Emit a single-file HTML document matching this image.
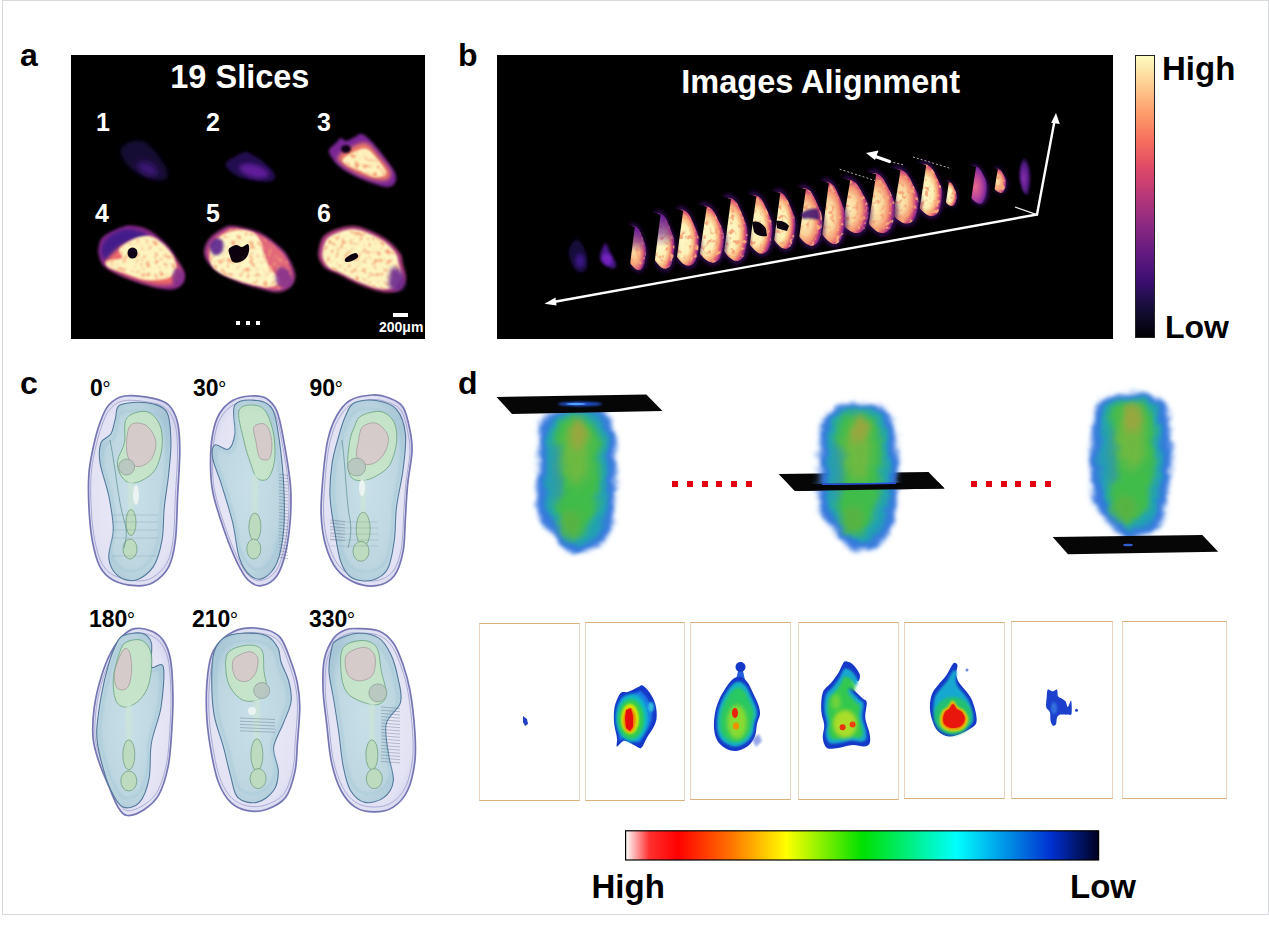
<!DOCTYPE html>
<html><head><meta charset="utf-8"><title>Figure</title>
<style>
html,body{margin:0;padding:0;background:#fff;width:1269px;height:925px;overflow:hidden}
svg{display:block}
text{font-family:"Liberation Sans",Arial,sans-serif;font-weight:bold}
</style></head><body>
<svg width="1269" height="925" viewBox="0 0 1269 925">
<defs>
<linearGradient id="magma" x1="0" y1="1" x2="0" y2="0">
<stop offset="0" stop-color="#000004"/><stop offset="0.1" stop-color="#140e36"/>
<stop offset="0.2" stop-color="#3b0f70"/><stop offset="0.3" stop-color="#641a80"/>
<stop offset="0.4" stop-color="#8c2981"/><stop offset="0.5" stop-color="#b73779"/>
<stop offset="0.6" stop-color="#de4968"/><stop offset="0.7" stop-color="#f7705c"/>
<stop offset="0.8" stop-color="#fe9f6d"/><stop offset="0.9" stop-color="#fecf92"/>
<stop offset="1" stop-color="#fcfdbf"/>
</linearGradient>
<linearGradient id="jet" x1="0" y1="0" x2="1" y2="0">
<stop offset="0" stop-color="#ffffff"/><stop offset="0.05" stop-color="#ff3030"/>
<stop offset="0.11" stop-color="#ff0000"/><stop offset="0.22" stop-color="#ff7000"/>
<stop offset="0.34" stop-color="#ffff00"/><stop offset="0.5" stop-color="#00e000"/>
<stop offset="0.7" stop-color="#00ffff"/><stop offset="0.9" stop-color="#0030d0"/>
<stop offset="1" stop-color="#000020"/>
</linearGradient>
<filter id="b06" x="-20%" y="-20%" width="140%" height="140%"><feGaussianBlur stdDeviation="0.6"/></filter>
<filter id="b1" x="-20%" y="-20%" width="140%" height="140%"><feGaussianBlur stdDeviation="1"/></filter>
<filter id="b15" x="-20%" y="-20%" width="140%" height="140%"><feGaussianBlur stdDeviation="1.5"/></filter>
<filter id="b2" x="-30%" y="-30%" width="160%" height="160%"><feGaussianBlur stdDeviation="2"/></filter>
<filter id="b3" x="-30%" y="-30%" width="160%" height="160%"><feGaussianBlur stdDeviation="3"/></filter>
<filter id="b5" x="-40%" y="-40%" width="180%" height="180%"><feGaussianBlur stdDeviation="5"/></filter>
<filter id="speck" x="-10%" y="-10%" width="120%" height="120%" color-interpolation-filters="sRGB">
<feGaussianBlur in="SourceGraphic" stdDeviation="0.6" result="bl"/>
<feTurbulence type="fractalNoise" baseFrequency="0.2" numOctaves="2" seed="7" result="n"/>
<feColorMatrix in="n" type="matrix" values="0 0 0 0 0.97  0 0 0 0 0.66  0 0 0 0 0.48  0 0 0 -5 2.35" result="spots"/>
<feGaussianBlur in="spots" stdDeviation="0.7" result="spb"/>
<feComposite in="spb" in2="bl" operator="in" result="sp"/>
<feMerge><feMergeNode in="bl"/><feMergeNode in="sp"/></feMerge></filter>
<filter id="cloud" x="-15%" y="-10%" width="130%" height="120%">
<feTurbulence type="fractalNoise" baseFrequency="0.06" numOctaves="3" seed="11" result="t"/>
<feDisplacementMap in="SourceGraphic" in2="t" scale="9" xChannelSelector="R" yChannelSelector="G" result="d"/>
<feGaussianBlur in="d" stdDeviation="1.4"/></filter>
<filter id="speck2" x="-10%" y="-10%" width="120%" height="120%" color-interpolation-filters="sRGB">
<feGaussianBlur in="SourceGraphic" stdDeviation="1.1" result="bl"/>
<feTurbulence type="fractalNoise" baseFrequency="0.22" numOctaves="2" seed="3" result="n"/>
<feColorMatrix in="n" type="matrix" values="0 0 0 0 0.96  0 0 0 0 0.62  0 0 0 0 0.46  0 0 0 -5 2.3" result="spots"/>
<feGaussianBlur in="spots" stdDeviation="0.8" result="spb"/>
<feComposite in="spb" in2="bl" operator="in" result="sp"/>
<feMerge><feMergeNode in="bl"/><feMergeNode in="sp"/></feMerge></filter>
</defs>

<rect x="2.5" y="0.5" width="1266" height="914" fill="none" stroke="#d8d9de" stroke-width="1"/>
<text x="20" y="66" font-size="32">a</text><text x="458" y="66" font-size="32">b</text>
<text x="20" y="394" font-size="32">c</text><text x="458" y="394" font-size="32">d</text>
<rect x="71" y="55" width="354" height="284" fill="#000"/>
<text x="170.3" y="88" font-size="32.5" fill="#fff">19 Slices</text>
<g fill="#fff" font-size="25"><text x="96" y="131">1</text><text x="206" y="131">2</text><text x="317" y="131">3</text><text x="95" y="222">4</text><text x="206" y="222">5</text><text x="317" y="222">6</text></g>
<g fill="#fff"><rect x="236" y="321" width="4" height="4"/><rect x="246" y="321" width="4" height="4"/><rect x="256" y="321" width="4" height="4"/><rect x="393" y="313" width="15" height="4"/></g>
<text x="379" y="332" font-size="14" fill="#fff">200μm</text>
<path d="M121.0,150.0 C121.5,146.2 126.5,143.5 130.0,142.0 C133.5,140.5 138.3,140.0 142.0,141.0 C145.7,142.0 149.0,145.2 152.0,148.0 C155.0,150.8 157.5,154.3 160.0,158.0 C162.5,161.7 166.0,166.5 167.0,170.0 C168.0,173.5 168.0,177.3 166.0,179.0 C164.0,180.7 159.3,180.8 155.0,180.0 C150.7,179.2 144.7,176.5 140.0,174.0 C135.3,171.5 130.2,169.0 127.0,165.0 C123.8,161.0 120.5,153.8 121.0,150.0Z" fill="#140a34" filter="url(#b2)" opacity="1"/>
<ellipse cx="148" cy="169" rx="11" ry="6" fill="#3c1278" filter="url(#b3)" transform="rotate(25 148 168)"/>
<path d="M226.0,163.0 C227.2,160.7 232.7,157.8 236.0,156.0 C239.3,154.2 242.3,151.7 246.0,152.0 C249.7,152.3 254.3,155.7 258.0,158.0 C261.7,160.3 265.2,163.2 268.0,166.0 C270.8,168.8 274.3,172.5 275.0,175.0 C275.7,177.5 274.8,180.0 272.0,181.0 C269.2,182.0 263.3,181.7 258.0,181.0 C252.7,180.3 244.8,178.8 240.0,177.0 C235.2,175.2 231.3,172.3 229.0,170.0 C226.7,167.7 224.8,165.3 226.0,163.0Z" fill="#220c50" filter="url(#b15)" opacity="1"/>
<ellipse cx="254" cy="171" rx="15" ry="6.5" fill="#5e1a98" filter="url(#b2)" transform="rotate(15 254 171)"/>
<path d="M329.0,150.0 C329.7,147.5 334.0,145.0 336.0,143.0 C338.0,141.0 339.3,138.3 341.0,138.0 C342.7,137.7 343.7,141.2 346.0,141.0 C348.3,140.8 352.3,138.2 355.0,137.0 C357.7,135.8 359.2,133.2 362.0,134.0 C364.8,134.8 368.2,138.0 372.0,142.0 C375.8,146.0 381.2,152.8 385.0,158.0 C388.8,163.2 393.3,168.8 395.0,173.0 C396.7,177.2 396.2,180.7 395.0,183.0 C393.8,185.3 391.3,186.8 388.0,187.0 C384.7,187.2 380.5,185.8 375.0,184.0 C369.5,182.2 360.8,178.8 355.0,176.0 C349.2,173.2 343.8,170.0 340.0,167.0 C336.2,164.0 333.8,160.8 332.0,158.0 C330.2,155.2 328.3,152.5 329.0,150.0Z" fill="#7a2596" filter="url(#b15)" opacity="1"/>
<path d="M338.0,157.0 C339.3,154.3 345.3,150.3 350.0,148.0 C354.7,145.7 361.3,141.8 366.0,143.0 C370.7,144.2 374.0,150.3 378.0,155.0 C382.0,159.7 388.5,166.8 390.0,171.0 C391.5,175.2 390.0,178.7 387.0,180.0 C384.0,181.3 377.5,180.3 372.0,179.0 C366.5,177.7 359.0,174.5 354.0,172.0 C349.0,169.5 344.7,166.5 342.0,164.0 C339.3,161.5 336.7,159.7 338.0,157.0Z" fill="#ee7a66" filter="url(#b2)" opacity="1"/>
<path d="M343.0,159.0 C344.5,156.7 352.0,152.7 356.0,151.0 C360.0,149.3 363.3,147.5 367.0,149.0 C370.7,150.5 374.8,156.0 378.0,160.0 C381.2,164.0 386.5,170.2 386.0,173.0 C385.5,175.8 379.7,177.5 375.0,177.0 C370.3,176.5 362.7,172.0 358.0,170.0 C353.3,168.0 349.5,166.8 347.0,165.0 C344.5,163.2 341.5,161.3 343.0,159.0Z" fill="#fdf3bd" filter="url(#speck2)" opacity="1"/>
<ellipse cx="346" cy="149" rx="5" ry="4" fill="#0a0214" filter="url(#b1)"/>
<path d="M98.7,248.5 C99.4,245.6 99.0,240.6 103.0,237.0 C107.0,233.4 117.6,228.8 122.9,227.0 C128.2,225.2 130.4,225.3 135.0,226.0 C139.6,226.7 145.1,227.7 150.6,231.0 C156.1,234.3 163.6,241.3 167.9,246.0 C172.2,250.7 173.8,254.7 176.5,259.0 C179.2,263.3 183.2,268.2 184.3,272.0 C185.5,275.8 185.0,279.2 183.4,282.0 C181.8,284.8 178.8,287.9 174.8,289.0 C170.8,290.1 165.4,289.4 159.2,288.3 C153.0,287.2 144.8,284.8 137.6,282.3 C130.4,279.9 121.8,276.5 116.0,273.6 C110.2,270.7 105.9,268.2 103.0,265.0 C100.1,261.8 99.4,257.4 98.7,254.6 C98.0,251.8 98.0,251.4 98.7,248.5Z" fill="#8c2b8a" filter="url(#b15)" opacity="1"/>
<path d="M101.0,250.0 C101.2,246.5 103.2,242.2 106.0,239.0 C108.8,235.8 114.0,232.7 118.0,231.0 C122.0,229.3 126.0,228.8 130.0,229.0 C134.0,229.2 139.0,230.5 142.0,232.0 C145.0,233.5 149.3,236.3 148.0,238.0 C146.7,239.7 138.0,240.5 134.0,242.0 C130.0,243.5 127.3,244.3 124.0,247.0 C120.7,249.7 117.2,255.8 114.0,258.0 C110.8,260.2 107.2,261.3 105.0,260.0 C102.8,258.7 100.8,253.5 101.0,250.0Z" fill="#431a8a" filter="url(#b2)" opacity="1"/>
<path d="M112.0,254.0 C114.7,251.2 117.7,248.3 122.0,246.0 C126.3,243.7 131.7,240.3 138.0,240.0 C144.3,239.7 154.3,241.3 160.0,244.0 C165.7,246.7 168.7,251.7 172.0,256.0 C175.3,260.3 179.0,265.7 180.0,270.0 C181.0,274.3 181.3,279.5 178.0,282.0 C174.7,284.5 166.7,285.3 160.0,285.0 C153.3,284.7 145.3,282.3 138.0,280.0 C130.7,277.7 121.3,273.8 116.0,271.0 C110.7,268.2 106.7,265.8 106.0,263.0 C105.3,260.2 109.3,256.8 112.0,254.0Z" fill="#ee6a68" filter="url(#b2)" opacity="1"/>
<path d="M122.0,246.0 C124.8,243.8 131.3,239.7 136.0,238.0 C140.7,236.3 145.7,235.2 150.0,236.0 C154.3,236.8 158.2,239.7 162.0,243.0 C165.8,246.3 170.7,251.5 173.0,256.0 C175.3,260.5 176.8,266.3 176.0,270.0 C175.2,273.7 173.0,276.3 168.0,278.0 C163.0,279.7 153.3,280.8 146.0,280.0 C138.7,279.2 130.3,275.2 124.0,273.0 C117.7,270.8 110.8,269.0 108.0,267.0 C105.2,265.0 104.7,262.5 107.0,261.0 C109.3,259.5 120.0,259.7 122.0,258.0 C124.0,256.3 119.0,253.0 119.0,251.0 C119.0,249.0 119.2,248.2 122.0,246.0Z" fill="#fdf5c0" filter="url(#speck2)" opacity="1"/>
<path d="M176.0,268.0 C177.8,267.2 182.0,270.5 183.0,273.0 C184.0,275.5 183.3,280.8 182.0,283.0 C180.7,285.2 176.7,286.8 175.0,286.0 C173.3,285.2 171.8,281.0 172.0,278.0 C172.2,275.0 174.2,268.8 176.0,268.0Z" fill="#7a2a90" filter="url(#b15)" opacity="0.8"/>
<ellipse cx="132.5" cy="253" rx="5" ry="5.5" fill="#0a0212" filter="url(#b06)"/>
<path d="M204.2,249.9 C204.7,246.1 206.9,241.5 210.0,238.0 C213.1,234.5 218.7,230.8 222.6,228.8 C226.5,226.8 227.5,225.4 233.6,226.0 C239.7,226.6 252.0,229.3 259.3,232.5 C266.7,235.7 272.9,241.3 277.7,245.3 C282.4,249.3 284.9,251.5 287.8,256.4 C290.7,261.3 294.7,269.6 295.2,274.7 C295.7,279.8 293.5,283.8 290.6,286.7 C287.7,289.6 282.9,291.9 277.7,292.2 C272.5,292.5 266.2,290.3 259.3,288.5 C252.4,286.7 243.3,283.9 236.4,281.2 C229.5,278.4 222.9,275.4 218.0,272.0 C213.1,268.6 209.3,264.7 207.0,261.0 C204.7,257.3 203.7,253.7 204.2,249.9Z" fill="#a03a88" filter="url(#b15)" opacity="1"/>
<path d="M207.9,250.6 C208.3,247.1 210.4,242.9 213.2,239.7 C216.0,236.4 221.2,233.1 224.8,231.2 C228.4,229.4 229.3,228.1 234.9,228.6 C240.5,229.2 251.8,231.7 258.6,234.6 C265.3,237.6 271.1,242.7 275.5,246.4 C279.9,250.1 282.1,252.1 284.8,256.6 C287.5,261.1 291.2,268.8 291.6,273.4 C292.0,278.1 290.0,281.8 287.4,284.5 C284.7,287.2 280.3,289.3 275.5,289.5 C270.7,289.8 264.9,287.8 258.6,286.1 C252.2,284.5 243.8,282.0 237.5,279.4 C231.2,276.9 225.1,274.1 220.6,271.0 C216.1,267.9 212.6,264.2 210.4,260.8 C208.3,257.5 207.4,254.2 207.9,250.6Z" fill="#e2687a" filter="url(#speck2)" opacity="1"/>
<path d="M210.0,254.0 C210.3,250.2 211.7,246.3 214.0,243.0 C216.3,239.7 220.0,236.2 224.0,234.0 C228.0,231.8 233.3,230.3 238.0,230.0 C242.7,229.7 248.3,230.3 252.0,232.0 C255.7,233.7 258.0,236.3 260.0,240.0 C262.0,243.7 262.3,249.3 264.0,254.0 C265.7,258.7 267.3,263.5 270.0,268.0 C272.7,272.5 280.3,277.8 280.0,281.0 C279.7,284.2 273.7,286.7 268.0,287.0 C262.3,287.3 253.3,285.0 246.0,283.0 C238.7,281.0 229.7,277.8 224.0,275.0 C218.3,272.2 214.3,269.5 212.0,266.0 C209.7,262.5 209.7,257.8 210.0,254.0Z" fill="#fdf7c4" filter="url(#speck2)" opacity="1"/>
<path d="M209.0,245.0 C209.3,242.2 213.7,238.5 216.0,238.0 C218.3,237.5 222.0,239.7 223.0,242.0 C224.0,244.3 223.5,249.8 222.0,252.0 C220.5,254.2 216.2,256.2 214.0,255.0 C211.8,253.8 208.7,247.8 209.0,245.0Z" fill="#5a2090" filter="url(#b15)" opacity="0.9"/>
<path d="M278.0,268.0 C280.0,266.0 285.7,267.7 288.0,270.0 C290.3,272.3 292.7,279.0 292.0,282.0 C291.3,285.0 286.7,288.0 284.0,288.0 C281.3,288.0 277.0,285.3 276.0,282.0 C275.0,278.7 276.0,270.0 278.0,268.0Z" fill="#7a2a90" filter="url(#b15)" opacity="0.8"/>
<path d="M228.9,249.0 C229.9,247.2 233.8,245.3 236.0,245.0 C238.2,244.7 240.0,247.2 242.0,247.0 C244.0,246.8 246.8,243.3 248.0,244.0 C249.2,244.7 249.3,248.7 249.0,251.0 C248.7,253.3 247.5,256.2 246.0,258.0 C244.5,259.8 242.2,261.3 240.0,262.0 C237.8,262.7 234.7,263.0 233.0,262.0 C231.3,261.0 230.7,258.2 230.0,256.0 C229.3,253.8 227.9,250.8 228.9,249.0Z" fill="#08000c" filter="url(#b06)" opacity="1"/>
<path d="M318.7,249.9 C319.5,246.1 320.6,239.6 323.8,236.1 C327.0,232.6 332.6,230.5 337.6,228.8 C342.7,227.1 348.8,225.7 354.1,226.0 C359.5,226.3 364.0,228.2 369.7,230.6 C375.4,233.0 383.0,236.9 388.1,240.7 C393.2,244.5 397.7,249.8 400.1,253.6 C402.6,257.4 401.9,259.7 402.8,263.7 C403.7,267.7 405.9,273.4 405.6,277.5 C405.3,281.6 403.4,286.1 401.0,288.5 C398.6,290.9 395.0,291.9 390.9,292.2 C386.8,292.5 382.0,291.9 376.2,290.4 C370.4,288.9 362.4,285.8 356.0,283.0 C349.6,280.2 342.7,276.2 337.6,273.8 C332.5,271.4 328.7,270.8 325.6,268.3 C322.5,265.9 320.4,262.2 319.2,259.1 C318.0,256.0 317.9,253.7 318.7,249.9Z" fill="#b04080" filter="url(#b15)" opacity="1"/>
<path d="M322.8,250.9 C323.5,247.5 324.6,241.7 327.4,238.5 C330.3,235.3 335.3,233.4 339.8,231.9 C344.4,230.4 349.9,229.1 354.7,229.4 C359.5,229.7 363.6,231.3 368.7,233.5 C373.8,235.7 380.7,239.2 385.3,242.6 C389.9,246.1 393.9,250.8 396.1,254.2 C398.3,257.7 397.7,259.7 398.5,263.3 C399.3,266.9 401.3,272.0 401.0,275.8 C400.8,279.5 399.1,283.4 396.9,285.6 C394.7,287.9 391.5,288.7 387.8,289.0 C384.1,289.3 379.8,288.7 374.6,287.4 C369.3,286.0 362.2,283.2 356.4,280.7 C350.6,278.2 344.4,274.6 339.8,272.4 C335.3,270.2 331.8,269.7 329.0,267.5 C326.3,265.3 324.3,261.9 323.3,259.2 C322.2,256.4 322.1,254.4 322.8,250.9Z" fill="#fdf5c0" filter="url(#speck2)" opacity="1"/>
<path d="M392.0,268.0 C394.2,265.7 399.8,269.2 402.0,272.0 C404.2,274.8 405.7,281.8 405.0,285.0 C404.3,288.2 400.7,290.8 398.0,291.0 C395.3,291.2 390.0,289.8 389.0,286.0 C388.0,282.2 389.8,270.3 392.0,268.0Z" fill="#6a2890" filter="url(#b2)" opacity="0.9"/>
<path d="M345.0,259.0 C345.7,257.8 348.2,256.0 350.0,255.0 C351.8,254.0 354.7,252.7 356.0,253.0 C357.3,253.3 358.7,255.7 358.0,257.0 C357.3,258.3 354.0,260.2 352.0,261.0 C350.0,261.8 347.2,262.3 346.0,262.0 C344.8,261.7 344.3,260.2 345.0,259.0Z" fill="#100010" filter="url(#b06)" opacity="1"/>
<rect x="497" y="55" width="616" height="284" fill="#000"/>
<defs><radialGradient id="g_faint" cx="0.36" cy="0.55" r="0.64"><stop offset="0" stop-color="#3a1878" stop-opacity="0.9"/><stop offset="0.6" stop-color="#200c50" stop-opacity="0.8"/><stop offset="1" stop-color="#100630" stop-opacity="0"/></radialGradient><radialGradient id="g_purple" cx="0.36" cy="0.55" r="0.64"><stop offset="0" stop-color="#8a30b0" stop-opacity="1"/><stop offset="0.6" stop-color="#5a1c92" stop-opacity="0.9"/><stop offset="1" stop-color="#2a0c50" stop-opacity="0"/></radialGradient><radialGradient id="g_bright" cx="0.36" cy="0.55" r="0.64"><stop offset="0" stop-color="#fdf8c8" stop-opacity="1"/><stop offset="0.45" stop-color="#fdf0b4" stop-opacity="1"/><stop offset="0.64" stop-color="#fab47e" stop-opacity="1"/><stop offset="0.79" stop-color="#e05a74" stop-opacity="1"/><stop offset="0.91" stop-color="#9a2e88" stop-opacity="0.95"/><stop offset="1" stop-color="#3a0c60" stop-opacity="0"/></radialGradient><radialGradient id="g_mid" cx="0.36" cy="0.55" r="0.64"><stop offset="0" stop-color="#fdf0b8" stop-opacity="1"/><stop offset="0.4" stop-color="#fad49a" stop-opacity="1"/><stop offset="0.65" stop-color="#f49070" stop-opacity="1"/><stop offset="0.82" stop-color="#c8447c" stop-opacity="1"/><stop offset="0.94" stop-color="#7a2288" stop-opacity="0.9"/><stop offset="1" stop-color="#3a0c60" stop-opacity="0"/></radialGradient><radialGradient id="g_pink" cx="0.36" cy="0.55" r="0.64"><stop offset="0" stop-color="#e86a8a" stop-opacity="1"/><stop offset="0.5" stop-color="#b8449a" stop-opacity="1"/><stop offset="0.8" stop-color="#7a2a9a" stop-opacity="1"/><stop offset="1" stop-color="#3a1070" stop-opacity="0"/></radialGradient><radialGradient id="g_orange" cx="0.36" cy="0.55" r="0.64"><stop offset="0" stop-color="#fde6a8" stop-opacity="1"/><stop offset="0.45" stop-color="#f8b080" stop-opacity="1"/><stop offset="0.75" stop-color="#d85a78" stop-opacity="1"/><stop offset="0.9" stop-color="#8a2a88" stop-opacity="0.9"/><stop offset="1" stop-color="#3a0c60" stop-opacity="0"/></radialGradient><linearGradient id="ptop" x1="0" y1="0" x2="0" y2="1"><stop offset="0" stop-color="#5a1a9a" stop-opacity="0.95"/><stop offset="0.35" stop-color="#6a2090" stop-opacity="0.6"/><stop offset="0.6" stop-color="#6a2090" stop-opacity="0"/></linearGradient></defs>
<path d="M1024.4,157.4 C1025.7,157.7 1028.0,161.2 1029.3,164.9 C1030.5,168.7 1031.7,174.9 1031.7,179.9 C1031.7,184.9 1030.7,193.0 1029.3,194.9 C1027.8,196.8 1024.8,194.3 1023.2,191.2 C1021.5,188.0 1019.8,180.8 1019.5,176.2 C1019.2,171.5 1020.5,166.2 1021.3,163.0 C1022.1,159.9 1023.1,157.1 1024.4,157.4Z" fill="url(#g_purple)" filter="url(#b1)"/>
<path d="M996.3,166.8 C997.4,166.7 999.1,167.3 1000.3,168.4 C1001.6,169.5 1002.5,171.1 1003.7,173.3 C1004.9,175.6 1007.1,179.0 1007.5,181.8 C1007.9,184.6 1007.3,188.2 1006.3,190.2 C1005.3,192.2 1003.3,193.7 1001.7,194.0 C1000.0,194.3 998.0,193.5 996.3,192.1 C994.6,190.7 992.3,188.7 991.5,185.8 C990.7,183.0 991.2,177.8 991.5,175.0 C991.8,172.1 992.5,170.3 993.3,169.0 C994.1,167.6 995.1,166.9 996.3,166.8Z" fill="#3c0f64" opacity="0.75" filter="url(#b2)"/>
<path d="M996.6,168.4 C997.7,168.3 999.1,168.9 1000.2,169.9 C1001.4,170.8 1002.2,172.2 1003.3,174.2 C1004.3,176.2 1006.3,179.3 1006.7,181.8 C1007.0,184.3 1006.4,187.5 1005.6,189.3 C1004.7,191.1 1003.0,192.4 1001.5,192.7 C1000.0,193.0 998.1,192.2 996.6,191.0 C995.1,189.8 993.1,188.0 992.4,185.4 C991.7,182.9 992.1,178.2 992.4,175.7 C992.6,173.2 993.3,171.6 994.0,170.3 C994.7,169.1 995.6,168.5 996.6,168.4Z" fill="url(#g_orange)" filter="url(#speck)"/>
<polygon points="967.8,160.5 997.8,168.9 993.5,195.7 963.5,187.3" fill="#000"/>
<path d="M973.8,163.7 C975.4,163.6 977.7,164.6 979.4,166.2 C981.1,167.9 982.4,170.4 984.0,173.8 C985.7,177.2 988.7,182.5 989.3,186.8 C989.8,191.2 988.9,196.7 987.6,199.8 C986.2,203.0 983.6,205.2 981.3,205.7 C979.0,206.2 976.1,204.9 973.8,202.8 C971.5,200.7 968.4,197.5 967.3,193.1 C966.2,188.7 966.9,180.7 967.3,176.3 C967.7,172.0 968.6,169.2 969.7,167.1 C970.8,165.0 972.2,163.9 973.8,163.7Z" fill="#3c0f64" opacity="0.75" filter="url(#b2)"/>
<path d="M974.3,166.2 C975.8,166.1 977.8,166.9 979.3,168.4 C980.8,169.9 982.0,172.1 983.5,175.2 C984.9,178.3 987.6,182.9 988.1,186.8 C988.6,190.7 987.8,195.6 986.6,198.4 C985.4,201.3 983.0,203.3 981.0,203.7 C978.9,204.1 976.4,202.9 974.3,201.1 C972.2,199.2 969.5,196.4 968.5,192.4 C967.5,188.5 968.2,181.3 968.5,177.4 C968.9,173.6 969.7,171.1 970.7,169.2 C971.6,167.3 972.9,166.3 974.3,166.2Z" fill="url(#g_pink)" filter="url(#b06)"/>
<polygon points="946.0,158.5 976.0,166.9 970.0,206.7 940.0,198.3" fill="#000"/>
<path d="M947.5,180.0 C948.6,179.9 950.1,180.5 951.2,181.6 C952.4,182.7 953.2,184.3 954.3,186.5 C955.4,188.8 957.4,192.2 957.8,195.0 C958.2,197.8 957.6,201.4 956.7,203.4 C955.8,205.4 954.0,206.9 952.5,207.2 C950.9,207.5 949.0,206.7 947.5,205.3 C945.9,203.9 943.9,201.9 943.1,199.0 C942.4,196.2 942.9,191.0 943.1,188.2 C943.4,185.3 944.0,183.5 944.8,182.2 C945.5,180.8 946.4,180.1 947.5,180.0Z" fill="#3c0f64" opacity="0.75" filter="url(#b2)"/>
<path d="M947.8,181.6 C948.8,181.5 950.1,182.1 951.2,183.1 C952.2,184.0 952.9,185.4 953.9,187.4 C954.9,189.4 956.7,192.5 957.0,195.0 C957.4,197.5 956.8,200.7 956.0,202.5 C955.2,204.3 953.6,205.6 952.3,205.9 C950.9,206.2 949.2,205.4 947.8,204.2 C946.4,203.0 944.6,201.2 943.9,198.6 C943.3,196.1 943.7,191.4 943.9,188.9 C944.2,186.4 944.7,184.8 945.4,183.5 C946.0,182.3 946.9,181.7 947.8,181.6Z" fill="url(#g_bright)" filter="url(#speck)"/>
<polygon points="918.9,173.7 948.9,182.1 944.9,208.9 914.9,200.5" fill="#000"/>
<path d="M923.3,160.8 C925.5,160.6 928.6,161.9 930.9,164.3 C933.2,166.6 935.0,170.0 937.2,174.7 C939.4,179.4 943.4,186.7 944.2,192.7 C945.0,198.7 943.8,206.3 942.0,210.7 C940.2,215.0 936.5,218.1 933.4,218.8 C930.3,219.5 926.5,217.6 923.3,214.7 C920.2,211.8 916.0,207.5 914.5,201.4 C913.0,195.3 914.0,184.2 914.5,178.2 C915.1,172.2 916.3,168.3 917.8,165.4 C919.3,162.5 921.1,161.0 923.3,160.8Z" fill="#3c0f64" opacity="0.75" filter="url(#b2)"/>
<path d="M924.0,164.2 C926.0,164.0 928.7,165.2 930.8,167.3 C932.8,169.4 934.4,172.4 936.4,176.6 C938.4,180.9 942.0,187.3 942.7,192.7 C943.4,198.0 942.3,204.9 940.6,208.7 C939.0,212.6 935.8,215.4 933.0,216.0 C930.2,216.6 926.8,215.0 924.0,212.4 C921.2,209.8 917.4,205.9 916.1,200.5 C914.8,195.0 915.6,185.1 916.1,179.7 C916.6,174.4 917.7,170.9 919.0,168.3 C920.4,165.8 922.0,164.4 924.0,164.2Z" fill="url(#g_bright)" filter="url(#speck)"/>
<polygon points="896.2,156.8 926.2,165.2 918.1,219.0 888.1,210.6" fill="#000"/>
<path d="M897.2,165.6 C899.6,165.4 903.1,166.8 905.7,169.3 C908.2,171.7 910.2,175.2 912.7,180.2 C915.2,185.2 919.7,192.8 920.6,199.1 C921.5,205.3 920.1,213.4 918.1,217.9 C916.0,222.5 912.0,225.7 908.5,226.4 C905.0,227.1 900.7,225.2 897.2,222.2 C893.7,219.1 889.0,214.6 887.3,208.2 C885.7,201.8 886.7,190.1 887.3,183.9 C887.9,177.6 889.3,173.5 891.0,170.5 C892.6,167.4 894.7,165.8 897.2,165.6Z" fill="#3c0f64" opacity="0.75" filter="url(#b2)"/>
<path d="M897.9,169.2 C900.1,169.0 903.2,170.3 905.5,172.5 C907.8,174.6 909.6,177.8 911.8,182.2 C914.0,186.7 918.1,193.5 918.9,199.1 C919.7,204.7 918.4,211.8 916.6,215.9 C914.8,220.0 911.1,222.9 908.0,223.5 C904.9,224.1 901.1,222.4 897.9,219.7 C894.8,217.0 890.6,212.9 889.1,207.2 C887.6,201.5 888.6,191.1 889.1,185.5 C889.7,179.9 890.9,176.3 892.4,173.5 C893.9,170.8 895.8,169.4 897.9,169.2Z" fill="url(#g_mid)" filter="url(#speck)"/>
<polygon points="870.5,161.9 900.5,170.3 891.4,226.5 861.4,218.1" fill="#000"/>
<path d="M872.8,169.1 C875.4,168.9 878.9,170.5 881.6,173.2 C884.3,175.9 886.3,179.8 888.9,185.2 C891.5,190.7 896.2,199.1 897.1,206.0 C898.0,213.0 896.6,221.8 894.5,226.8 C892.4,231.9 888.1,235.5 884.5,236.2 C880.9,237.0 876.5,234.9 872.8,231.5 C869.2,228.2 864.3,223.2 862.6,216.1 C860.9,209.1 862.0,196.2 862.6,189.3 C863.2,182.3 864.7,177.9 866.4,174.5 C868.1,171.2 870.3,169.4 872.8,169.1Z" fill="#3c0f64" opacity="0.75" filter="url(#b2)"/>
<path d="M873.6,173.1 C875.9,172.9 879.1,174.3 881.5,176.7 C883.8,179.1 885.7,182.6 888.0,187.5 C890.3,192.4 894.5,199.9 895.3,206.0 C896.1,212.2 894.8,220.1 892.9,224.6 C891.1,229.1 887.3,232.3 884.1,233.0 C880.8,233.7 876.9,231.8 873.6,228.8 C870.4,225.8 866.0,221.3 864.5,215.0 C863.0,208.7 863.9,197.3 864.5,191.1 C865.1,184.9 866.4,180.9 867.9,177.9 C869.4,174.9 871.4,173.3 873.6,173.1Z" fill="url(#g_mid)" filter="url(#speck)"/>
<polygon points="846.2,165.9 876.2,174.3 866.8,236.0 836.8,227.6" fill="#000"/>
<path d="M846.8,175.9 C849.3,175.7 852.9,177.1 855.6,179.5 C858.2,181.9 860.3,185.4 862.8,190.3 C865.4,195.2 870.1,202.7 871.0,208.9 C871.9,215.1 870.5,223.0 868.4,227.5 C866.3,232.0 862.1,235.2 858.5,235.9 C854.9,236.6 850.5,234.7 846.8,231.7 C843.2,228.7 838.3,224.2 836.6,217.9 C834.9,211.6 836.0,200.1 836.6,193.9 C837.3,187.7 838.7,183.7 840.4,180.7 C842.1,177.7 844.3,176.1 846.8,175.9Z" fill="#3c0f64" opacity="0.75" filter="url(#b2)"/>
<path d="M847.6,179.4 C849.9,179.2 853.0,180.5 855.4,182.6 C857.8,184.8 859.6,187.9 861.9,192.3 C864.2,196.6 868.4,203.3 869.2,208.9 C870.0,214.4 868.7,221.5 866.8,225.5 C865.0,229.5 861.2,232.4 858.0,233.0 C854.8,233.6 850.9,231.9 847.6,229.2 C844.4,226.6 840.0,222.5 838.5,216.9 C837.0,211.3 837.9,201.0 838.5,195.5 C839.1,189.9 840.4,186.4 841.9,183.7 C843.4,181.0 845.3,179.6 847.6,179.4Z" fill="url(#g_mid)" filter="url(#speck)"/>
<polygon points="820.2,172.1 850.2,180.5 840.8,236.0 810.8,227.6" fill="#000"/>
<path d="M825.9,177.7 C828.1,177.5 831.2,179.1 833.5,181.9 C835.9,184.7 837.7,188.7 839.9,194.4 C842.2,200.1 846.3,208.8 847.1,216.0 C847.9,223.2 846.6,232.4 844.8,237.6 C842.9,242.8 839.2,246.5 836.1,247.4 C832.9,248.2 829.1,246.0 825.9,242.5 C822.7,239.0 818.4,233.8 816.9,226.5 C815.4,219.1 816.4,205.8 816.9,198.6 C817.5,191.4 818.8,186.8 820.3,183.3 C821.7,179.8 823.7,177.9 825.9,177.7Z" fill="#3c0f64" opacity="0.75" filter="url(#b2)"/>
<path d="M826.6,181.8 C828.5,181.6 831.3,183.0 833.4,185.5 C835.5,188.0 837.1,191.6 839.1,196.7 C841.1,201.8 844.8,209.6 845.5,216.0 C846.2,222.4 845.1,230.6 843.4,235.3 C841.8,240.0 838.5,243.3 835.7,244.0 C832.9,244.7 829.4,242.8 826.6,239.6 C823.7,236.5 819.9,231.9 818.6,225.3 C817.2,218.8 818.1,206.9 818.6,200.5 C819.1,194.0 820.2,189.9 821.5,186.8 C822.9,183.7 824.6,182.0 826.6,181.8Z" fill="url(#g_mid)" filter="url(#speck)"/>
<polygon points="798.8,174.6 828.8,183.0 820.6,247.0 790.6,238.6" fill="#000"/>
<path d="M802.9,184.2 C805.1,184.0 808.3,185.5 810.6,188.1 C813.0,190.6 814.8,194.4 817.1,199.7 C819.4,204.9 823.5,213.0 824.3,219.7 C825.1,226.3 823.8,234.8 822.0,239.7 C820.1,244.5 816.4,248.0 813.2,248.7 C810.0,249.5 806.1,247.4 802.9,244.2 C799.7,241.0 795.4,236.1 793.9,229.4 C792.4,222.6 793.3,210.2 793.9,203.6 C794.5,196.9 795.7,192.6 797.2,189.4 C798.7,186.1 800.7,184.4 802.9,184.2Z" fill="#3c0f64" opacity="0.75" filter="url(#b2)"/>
<path d="M803.6,188.0 C805.6,187.8 808.4,189.2 810.5,191.5 C812.6,193.8 814.2,197.1 816.2,201.8 C818.3,206.5 822.0,213.7 822.7,219.7 C823.4,225.6 822.3,233.2 820.6,237.5 C819.0,241.9 815.6,244.9 812.8,245.6 C810.0,246.3 806.5,244.4 803.6,241.6 C800.7,238.7 796.9,234.4 795.5,228.3 C794.2,222.3 795.1,211.2 795.5,205.3 C796.0,199.3 797.2,195.5 798.5,192.6 C799.9,189.7 801.6,188.2 803.6,188.0Z" fill="url(#g_mid)" filter="url(#speck)"/>
<polygon points="775.9,180.8 805.9,189.2 797.6,248.6 767.6,240.2" fill="#000"/>
<path d="M777.5,188.3 C779.6,188.0 782.5,189.5 784.7,192.1 C786.9,194.6 788.5,198.3 790.6,203.5 C792.7,208.7 796.6,216.6 797.3,223.2 C798.1,229.7 796.9,238.1 795.2,242.9 C793.5,247.6 790.0,251.0 787.1,251.8 C784.1,252.5 780.5,250.5 777.5,247.3 C774.5,244.1 770.6,239.4 769.2,232.7 C767.8,226.0 768.7,213.9 769.2,207.3 C769.7,200.7 770.9,196.5 772.3,193.3 C773.7,190.2 775.5,188.5 777.5,188.3Z" fill="#3c0f64" opacity="0.75" filter="url(#b2)"/>
<path d="M778.2,192.0 C780.0,191.8 782.6,193.1 784.5,195.4 C786.5,197.7 788.0,201.0 789.9,205.6 C791.8,210.2 795.2,217.3 795.8,223.2 C796.5,229.0 795.4,236.5 793.9,240.8 C792.4,245.0 789.3,248.0 786.7,248.7 C784.1,249.4 780.8,247.6 778.2,244.7 C775.5,241.9 771.9,237.6 770.7,231.7 C769.5,225.7 770.2,214.9 770.7,209.0 C771.2,203.2 772.2,199.4 773.5,196.5 C774.7,193.7 776.3,192.2 778.2,192.0Z" fill="url(#g_bright)" filter="url(#speck)"/>
<polygon points="750.3,184.7 780.3,193.1 772.6,251.7 742.6,243.3" fill="#000"/>
<path d="M753.4,191.4 C755.6,191.1 758.7,192.7 761.0,195.3 C763.4,197.9 765.2,201.7 767.4,207.0 C769.7,212.4 773.8,220.5 774.6,227.3 C775.4,234.0 774.1,242.6 772.3,247.5 C770.4,252.4 766.7,255.9 763.6,256.6 C760.4,257.4 756.6,255.3 753.4,252.1 C750.2,248.8 745.9,243.9 744.4,237.1 C742.9,230.2 743.9,217.7 744.4,210.9 C745.0,204.2 746.3,199.8 747.8,196.6 C749.2,193.3 751.2,191.6 753.4,191.4Z" fill="#3c0f64" opacity="0.75" filter="url(#b2)"/>
<path d="M754.1,195.2 C756.0,195.0 758.8,196.4 760.9,198.7 C763.0,201.0 764.6,204.4 766.6,209.2 C768.6,214.0 772.3,221.2 773.0,227.3 C773.7,233.3 772.6,241.0 770.9,245.3 C769.3,249.7 766.0,252.8 763.2,253.5 C760.4,254.2 756.9,252.3 754.1,249.4 C751.2,246.5 747.4,242.1 746.1,236.0 C744.8,229.9 745.6,218.7 746.1,212.7 C746.6,206.7 747.7,202.8 749.0,199.9 C750.4,196.9 752.1,195.4 754.1,195.2Z" fill="url(#g_bright)" filter="url(#speck)"/>
<polygon points="726.3,188.0 756.3,196.4 748.1,256.5 718.1,248.1" fill="#000"/>
<path d="M727.9,193.6 C730.2,193.4 733.4,195.0 735.8,197.9 C738.3,200.7 740.1,204.8 742.4,210.6 C744.8,216.4 749.0,225.2 749.9,232.5 C750.7,239.8 749.4,249.1 747.5,254.4 C745.6,259.7 741.7,263.5 738.5,264.3 C735.2,265.1 731.2,262.9 727.9,259.4 C724.6,255.8 720.2,250.5 718.7,243.1 C717.1,235.7 718.1,222.1 718.7,214.8 C719.2,207.5 720.6,202.8 722.1,199.3 C723.6,195.8 725.6,193.9 727.9,193.6Z" fill="#3c0f64" opacity="0.75" filter="url(#b2)"/>
<path d="M728.6,197.8 C730.7,197.6 733.5,199.1 735.7,201.6 C737.9,204.1 739.5,207.8 741.6,212.9 C743.7,218.1 747.5,226.0 748.2,232.5 C749.0,239.0 747.8,247.3 746.1,252.1 C744.4,256.8 741.0,260.2 738.1,260.9 C735.1,261.6 731.6,259.6 728.6,256.5 C725.7,253.3 721.7,248.6 720.4,242.0 C719.0,235.3 719.8,223.3 720.4,216.7 C720.9,210.2 722.1,206.0 723.4,202.8 C724.8,199.7 726.6,198.0 728.6,197.8Z" fill="url(#g_bright)" filter="url(#speck)"/>
<polygon points="701.0,190.7 731.0,199.1 722.5,263.9 692.5,255.5" fill="#000"/>
<path d="M703.6,202.0 C706.0,201.7 709.3,203.2 711.8,205.8 C714.4,208.3 716.3,212.0 718.7,217.2 C721.1,222.4 725.5,230.3 726.3,236.9 C727.2,243.4 725.8,251.8 723.9,256.6 C721.9,261.3 717.9,264.7 714.6,265.5 C711.2,266.2 707.1,264.2 703.6,261.0 C700.2,257.8 695.7,253.1 694.1,246.4 C692.5,239.7 693.5,227.6 694.1,221.0 C694.7,214.4 696.0,210.2 697.6,207.0 C699.2,203.9 701.3,202.2 703.6,202.0Z" fill="#3c0f64" opacity="0.75" filter="url(#b2)"/>
<path d="M704.4,205.7 C706.5,205.5 709.5,206.8 711.7,209.1 C713.9,211.4 715.6,214.7 717.8,219.3 C720.0,223.9 723.9,231.0 724.6,236.9 C725.4,242.7 724.2,250.2 722.4,254.5 C720.7,258.7 717.1,261.7 714.1,262.4 C711.1,263.1 707.4,261.3 704.4,258.4 C701.3,255.6 697.3,251.3 695.8,245.4 C694.4,239.4 695.3,228.6 695.8,222.7 C696.4,216.9 697.6,213.1 699.0,210.2 C700.4,207.4 702.3,205.9 704.4,205.7Z" fill="url(#g_bright)" filter="url(#speck)"/>
<polygon points="676.8,198.4 706.8,206.8 698.0,265.4 668.0,257.0" fill="#000"/>
<path d="M680.4,205.9 C682.5,205.7 685.5,207.2 687.8,209.7 C690.1,212.2 691.8,215.8 694.0,221.0 C696.2,226.1 700.1,233.9 700.9,240.4 C701.7,246.9 700.4,255.1 698.7,259.8 C696.9,264.5 693.3,267.9 690.3,268.6 C687.2,269.4 683.5,267.4 680.4,264.2 C677.3,261.1 673.1,256.4 671.7,249.8 C670.2,243.2 671.2,231.2 671.7,224.7 C672.2,218.2 673.5,214.1 674.9,210.9 C676.4,207.8 678.2,206.1 680.4,205.9Z" fill="#3c0f64" opacity="0.75" filter="url(#b2)"/>
<path d="M681.0,209.6 C682.9,209.4 685.6,210.7 687.7,213.0 C689.7,215.2 691.2,218.5 693.2,223.0 C695.1,227.6 698.7,234.6 699.4,240.4 C700.1,246.2 699.0,253.6 697.4,257.8 C695.8,262.0 692.6,264.9 689.9,265.6 C687.1,266.3 683.8,264.5 681.0,261.7 C678.3,258.9 674.6,254.7 673.3,248.8 C672.0,242.9 672.8,232.2 673.3,226.4 C673.8,220.6 674.9,216.9 676.2,214.1 C677.4,211.3 679.1,209.8 681.0,209.6Z" fill="url(#g_bright)" filter="url(#speck)"/>
<polygon points="653.2,202.3 683.2,210.7 675.3,268.6 645.3,260.2" fill="#000"/>
<path d="M657.9,210.0 C659.9,209.8 662.5,211.2 664.6,213.7 C666.6,216.1 668.1,219.7 670.1,224.8 C672.0,229.8 675.6,237.5 676.3,243.9 C677.0,250.3 675.9,258.4 674.3,263.0 C672.7,267.7 669.5,271.0 666.8,271.7 C664.1,272.4 660.7,270.4 657.9,267.4 C655.2,264.3 651.5,259.6 650.2,253.2 C648.9,246.7 649.7,234.9 650.2,228.5 C650.7,222.1 651.8,218.0 653.1,214.9 C654.4,211.8 656.0,210.2 657.9,210.0Z" fill="#3c0f64" opacity="0.75" filter="url(#b2)"/>
<path d="M658.5,213.6 C660.2,213.4 662.6,214.7 664.5,216.9 C666.3,219.1 667.6,222.3 669.4,226.8 C671.1,231.3 674.3,238.2 674.9,243.9 C675.5,249.6 674.5,256.9 673.1,261.0 C671.7,265.1 668.8,268.1 666.4,268.7 C664.0,269.3 661.0,267.6 658.5,264.8 C656.1,262.1 652.8,258.0 651.6,252.2 C650.5,246.4 651.2,235.8 651.6,230.1 C652.1,224.4 653.1,220.8 654.2,218.0 C655.4,215.3 656.8,213.8 658.5,213.6Z" fill="url(#g_bright)" filter="url(#speck)"/>
<path d="M658.5,213.6 C660.2,213.4 662.6,214.7 664.5,216.9 C666.3,219.1 667.6,222.3 669.4,226.8 C671.1,231.3 674.3,238.2 674.9,243.9 C675.5,249.6 674.5,256.9 673.1,261.0 C671.7,265.1 668.8,268.1 666.4,268.7 C664.0,269.3 661.0,267.6 658.5,264.8 C656.1,262.1 652.8,258.0 651.6,252.2 C650.5,246.4 651.2,235.8 651.6,230.1 C652.1,224.4 653.1,220.8 654.2,218.0 C655.4,215.3 656.8,213.8 658.5,213.6Z" fill="url(#ptop)" filter="url(#b06)"/>
<polygon points="630.5,206.3 660.5,214.7 653.4,271.7 623.4,263.3" fill="#000"/>
<path d="M632.7,223.1 C634.3,222.9 636.5,224.1 638.1,226.1 C639.7,228.0 641.0,230.9 642.6,234.9 C644.2,238.9 647.0,245.1 647.6,250.2 C648.2,255.3 647.3,261.8 646.0,265.5 C644.7,269.2 642.1,271.8 639.9,272.4 C637.7,273.0 635.0,271.4 632.7,268.9 C630.5,266.5 627.5,262.8 626.4,257.6 C625.4,252.4 626.1,243.0 626.4,237.9 C626.8,232.8 627.7,229.5 628.8,227.0 C629.8,224.6 631.2,223.3 632.7,223.1Z" fill="#3c0f64" opacity="0.75" filter="url(#b2)"/>
<path d="M633.2,226.0 C634.6,225.9 636.5,226.9 638.0,228.6 C639.5,230.4 640.6,233.0 642.0,236.6 C643.4,240.2 646.0,245.7 646.5,250.2 C647.0,254.7 646.2,260.5 645.0,263.8 C643.9,267.1 641.6,269.5 639.6,270.0 C637.6,270.5 635.2,269.1 633.2,266.9 C631.2,264.7 628.5,261.4 627.6,256.8 C626.7,252.2 627.3,243.7 627.6,239.2 C627.9,234.7 628.7,231.7 629.7,229.5 C630.6,227.3 631.8,226.1 633.2,226.0Z" fill="url(#g_orange)" filter="url(#speck)"/>
<path d="M633.2,226.0 C634.6,225.9 636.5,226.9 638.0,228.6 C639.5,230.4 640.6,233.0 642.0,236.6 C643.4,240.2 646.0,245.7 646.5,250.2 C647.0,254.7 646.2,260.5 645.0,263.8 C643.9,267.1 641.6,269.5 639.6,270.0 C637.6,270.5 635.2,269.1 633.2,266.9 C631.2,264.7 628.5,261.4 627.6,256.8 C626.7,252.2 627.3,243.7 627.6,239.2 C627.9,234.7 628.7,231.7 629.7,229.5 C630.6,227.3 631.8,226.1 633.2,226.0Z" fill="url(#ptop)" filter="url(#b06)"/>
<polygon points="604.8,218.5 634.8,226.9 629.0,273.0 599.0,264.6" fill="#000"/>
<path d="M605.5,243.0 C606.4,243.0 609.0,249.9 610.0,252.0 C611.0,254.1 615.6,262.4 616.0,264.0 C616.4,265.6 615.0,268.3 614.0,268.5 C613.0,268.7 607.4,266.9 606.0,266.0 C604.6,265.1 601.0,261.4 600.5,260.0 C600.0,258.6 600.5,253.7 601.0,252.0 C601.5,250.3 604.6,243.0 605.5,243.0Z" fill="#4a148c" filter="url(#b15)"/>
<ellipse cx="607" cy="259" rx="4.5" ry="6" fill="#7420c0" filter="url(#b15)" transform="rotate(-30 607 259)"/>
<path d="M576.0,239.5 C578.3,238.8 581.2,242.9 583.0,246.0 C584.8,249.1 586.5,254.0 587.0,258.0 C587.5,262.0 587.5,267.7 586.0,270.0 C584.5,272.3 580.5,273.3 578.0,272.0 C575.5,270.7 572.5,265.7 571.0,262.0 C569.5,258.3 568.2,253.8 569.0,250.0 C569.8,246.2 573.7,240.2 576.0,239.5Z" fill="#170a3a" filter="url(#b15)"/>
<ellipse cx="580" cy="261" rx="4.5" ry="7" fill="#3e168a" filter="url(#b2)"/>
<g fill="#070010" filter="url(#b06)"><path d="M752,222 C758,220 763,224 766,229 L767,236 C762,237 757,236 754,232Z"/><path d="M776,221 C781,220 786,222 789,226 L787,231 C783,230 779,229 777,228Z"/></g>
<path d="M800,214 C806,209 813,208 818,209 L820,220 C814,219 808,218 803,219Z" fill="#3a1070" opacity="0.85" filter="url(#b1)"/>
<g stroke="#fff" stroke-width="2.4" fill="none" stroke-linecap="round"><line x1="552" y1="302.2" x2="1037" y2="214.5"/><line x1="1037" y1="214.5" x2="1054.5" y2="121"/><line x1="889.5" y1="161.5" x2="872" y2="155.2" stroke-width="3.2"/></g>
<g fill="#fff"><polygon points="544.5,303.7 555.5,297.5 556.5,305.5"/><polygon points="1056,113 1051.2,122.8 1059.8,124"/><polygon points="866,153 878.5,150.5 875,160"/></g>
<g stroke="#ddd" stroke-width="1" stroke-dasharray="2,2" fill="none" opacity="0.8"><line x1="889.5" y1="161.5" x2="904" y2="165"/><line x1="839.7" y1="169.2" x2="875" y2="180.5"/><line x1="913" y1="157" x2="951.4" y2="168.7"/></g>
<line x1="1036" y1="214.3" x2="1015" y2="207" stroke="#eee" stroke-width="1.3"/>
<text x="681.3" y="93" font-size="32.5" fill="#fff">Images Alignment</text>
<rect x="1135.5" y="55.5" width="19" height="282" fill="url(#magma)" stroke="#222" stroke-width="1"/>
<text x="1162" y="80" font-size="33">High</text><text x="1165" y="338" font-size="32">Low</text>
<defs><radialGradient id="seedIn" cx="0.5" cy="0.5" r="0.6"><stop offset="0" stop-color="#c8dfe8"/><stop offset="0.75" stop-color="#bcd6e0"/><stop offset="1" stop-color="#a6c4d6"/></radialGradient><radialGradient id="seedOut" cx="0.5" cy="0.5" r="0.6"><stop offset="0" stop-color="#ececf8"/><stop offset="0.8" stop-color="#e2e2f4"/><stop offset="1" stop-color="#d0d0ec"/></radialGradient></defs>
<g font-size="23"><text transform="translate(90,396)">0<tspan font-weight="normal" font-size="21" dx="-0.6" dy="-0.3">°</tspan></text><text transform="translate(193,396)">30<tspan font-weight="normal" font-size="21" dx="-0.6" dy="-0.3">°</tspan></text><text transform="translate(309.5,396)">90<tspan font-weight="normal" font-size="21" dx="-0.6" dy="-0.3">°</tspan></text><text transform="translate(89,627)">180<tspan font-weight="normal" font-size="21" dx="-0.6" dy="-0.3">°</tspan></text><text transform="translate(192,627)">210<tspan font-weight="normal" font-size="21" dx="-0.6" dy="-0.3">°</tspan></text><text transform="translate(309,627)">330<tspan font-weight="normal" font-size="21" dx="-0.6" dy="-0.3">°</tspan></text></g>
<path d="M108.8,405.0 C112.9,400.6 117.0,397.1 124.4,396.0 C131.8,394.9 145.8,396.8 153.2,398.3 C160.6,399.8 164.6,400.9 168.7,405.0 C172.8,409.1 175.8,414.9 177.6,422.7 C179.4,430.4 179.8,439.3 179.8,451.5 C179.8,463.7 178.3,481.1 177.6,495.9 C176.9,510.7 176.9,528.4 175.4,540.2 C173.9,552.0 172.4,559.9 168.7,566.9 C165.0,573.9 158.8,579.3 153.2,582.4 C147.6,585.5 142.1,586.1 135.4,585.7 C128.8,585.3 119.2,583.3 113.3,580.2 C107.4,577.1 103.5,573.6 100.0,566.9 C96.5,560.2 94.0,550.2 92.2,540.2 C90.4,530.2 89.5,518.1 88.9,507.0 C88.4,495.9 88.2,483.7 88.9,473.7 C89.6,463.7 91.5,455.6 93.3,447.1 C95.1,438.6 97.4,429.7 100.0,422.7 C102.6,415.7 104.7,409.4 108.8,405.0Z" fill="url(#seedOut)" stroke="#7676b4" stroke-width="1.7"/>
<path d="M110.0,409.2 C113.9,404.9 117.8,401.7 124.8,400.6 C131.9,399.5 145.2,401.4 152.2,402.8 C159.2,404.2 163.1,405.3 166.9,409.2 C170.8,413.0 173.6,418.6 175.4,426.0 C177.1,433.3 177.5,441.7 177.5,453.3 C177.5,464.9 176.1,481.5 175.4,495.5 C174.7,509.6 174.7,526.4 173.3,537.6 C171.9,548.8 170.4,556.3 166.9,563.0 C163.4,569.6 157.5,574.7 152.2,577.7 C146.9,580.7 141.6,581.2 135.3,580.8 C129.0,580.5 119.9,578.6 114.3,575.6 C108.7,572.6 105.0,569.3 101.7,563.0 C98.3,556.6 96.0,547.1 94.3,537.6 C92.5,528.1 91.6,516.6 91.1,506.1 C90.6,495.5 90.4,483.9 91.1,474.4 C91.8,464.9 93.5,457.2 95.3,449.2 C97.1,441.1 99.2,432.6 101.7,426.0 C104.1,419.3 106.2,413.4 110.0,409.2Z" fill="none" stroke="#a4a4d2" stroke-width="1" opacity="0.9"/>
<path d="M120.0,405.0 C125.2,402.4 138.8,401.6 146.5,402.7 C154.2,403.8 162.4,405.3 166.5,411.6 C170.6,417.9 170.5,430.0 170.9,440.4 C171.3,450.8 169.8,462.6 168.7,473.7 C167.6,484.8 165.4,495.9 164.3,507.0 C163.2,518.1 163.8,530.2 162.0,540.2 C160.2,550.2 157.6,560.2 153.2,566.9 C148.8,573.6 141.3,578.7 135.4,580.2 C129.5,581.7 122.1,579.4 117.7,575.7 C113.3,572.0 109.5,565.8 108.8,558.0 C108.1,550.2 113.3,539.6 113.3,529.2 C113.3,518.9 111.0,507.0 108.8,495.9 C106.6,484.8 101.3,471.5 100.0,462.6 C98.7,453.7 99.2,447.5 101.0,442.7 C102.8,437.9 108.6,437.9 111.0,433.8 C113.4,429.7 114.0,423.1 115.5,418.3 C117.0,413.5 114.8,407.6 120.0,405.0Z" fill="url(#seedIn)" stroke="#52789a" stroke-width="1.1"/>
<path d="M121.3,413.0 C126.0,410.7 138.2,409.9 145.2,410.9 C152.1,411.9 159.5,413.3 163.2,418.9 C166.8,424.6 166.8,435.5 167.1,444.9 C167.5,454.2 166.1,464.8 165.1,474.8 C164.2,484.8 162.2,494.8 161.2,504.8 C160.2,514.8 160.8,525.7 159.1,534.7 C157.5,543.7 155.2,552.7 151.2,558.7 C147.2,564.7 140.5,569.4 135.2,570.7 C129.9,572.0 123.2,570.0 119.2,566.6 C115.3,563.3 111.9,557.7 111.2,550.7 C110.6,543.7 115.3,534.1 115.3,524.8 C115.3,515.5 113.2,504.8 111.2,494.8 C109.2,484.8 104.5,472.8 103.3,464.8 C102.1,456.9 102.6,451.2 104.2,446.9 C105.9,442.6 111.0,442.6 113.2,438.9 C115.4,435.3 115.9,429.3 117.3,425.0 C118.6,420.6 116.7,415.3 121.3,413.0Z" fill="none" stroke="#9ec4d4" stroke-width="2" opacity="0.6" filter="url(#b1)"/>
<path d="M126.6,418.3 C130.3,413.1 141.0,410.5 146.5,411.6 C152.0,412.7 157.2,419.0 159.8,424.9 C162.4,430.8 162.7,439.7 162.0,447.1 C161.3,454.5 158.7,463.8 155.4,469.3 C152.1,474.9 146.5,478.2 142.1,480.4 C137.7,482.6 132.5,483.7 128.8,482.6 C125.1,481.5 121.8,477.4 119.9,473.7 C118.1,470.0 117.0,465.6 117.7,460.4 C118.5,455.2 122.9,449.7 124.4,442.7 C125.9,435.7 122.9,423.5 126.6,418.3Z" fill="#c6e6c4" stroke="#5e9e70" stroke-width="0.9" opacity="0.82"/>
<path d="M130.4,425.3 C133.6,421.8 141.7,422.8 145.9,425.3 C150.2,427.9 154.7,435.4 155.7,440.9 C156.7,446.5 154.4,454.3 151.8,458.5 C149.2,462.8 143.7,465.7 140.1,466.4 C136.6,467.0 132.6,465.7 130.4,462.4 C128.1,459.1 126.5,453.0 126.5,446.8 C126.5,440.6 127.1,428.9 130.4,425.3Z" fill="#dcc4cc" stroke="#9a8490" stroke-width="0.8" opacity="0.75"/>
<path d="M128,478.6 L134,478.6 L133.5,511.5 L128.5,511.5Z" fill="#cde6d4" opacity="0.7" filter="url(#b1)"/>
<circle cx="126.6" cy="467" r="8" fill="#b8c6c0" stroke="#8a9a94" stroke-width="0.8" opacity="0.9"/>
<ellipse cx="131" cy="522.5" rx="5" ry="13" fill="#bcdcbc" stroke="#6a9a78" stroke-width="0.8" opacity="0.9"/>
<ellipse cx="130" cy="549" rx="7" ry="10" fill="#bcdcbc" stroke="#6a9a78" stroke-width="0.8" opacity="0.9"/>
<ellipse cx="136" cy="495" rx="3" ry="10" fill="#eef6f4" opacity="0.9"/>
<path d="M250.4,396.0 C256.0,395.6 261.6,395.7 266.0,398.3 C270.4,400.9 274.1,404.6 277.0,411.6 C279.9,418.6 281.5,428.2 283.7,440.4 C285.9,452.6 289.3,471.9 290.4,484.8 C291.5,497.7 291.1,506.9 290.4,518.0 C289.6,529.1 288.1,541.7 285.9,551.3 C283.7,560.9 281.1,570.0 277.0,575.7 C272.9,581.4 266.3,585.0 261.5,585.7 C256.7,586.5 252.3,584.1 248.2,580.2 C244.1,576.3 241.2,570.9 237.1,562.4 C233.0,553.9 227.9,541.0 223.8,529.2 C219.7,517.4 214.9,502.6 212.7,491.5 C210.5,480.4 210.5,472.2 210.5,462.6 C210.5,453.0 211.2,441.9 212.7,433.8 C214.2,425.7 216.1,419.4 219.4,413.8 C222.7,408.2 227.5,403.5 232.7,400.5 C237.9,397.5 244.8,396.4 250.4,396.0Z" fill="url(#seedOut)" stroke="#7676b4" stroke-width="1.7"/>
<path d="M250.5,400.4 C255.7,400.1 261.1,400.1 265.3,402.6 C269.5,405.1 272.9,408.6 275.7,415.2 C278.5,421.9 280.0,431.0 282.1,442.6 C284.2,454.2 287.4,472.5 288.5,484.8 C289.5,497.1 289.2,505.8 288.5,516.3 C287.8,526.9 286.3,538.8 284.2,548.0 C282.1,557.1 279.6,565.7 275.7,571.1 C271.9,576.6 265.6,579.9 261.0,580.6 C256.5,581.4 252.2,579.1 248.4,575.4 C244.5,571.7 241.7,566.6 237.8,558.5 C234.0,550.4 229.1,538.2 225.2,527.0 C221.3,515.7 216.8,501.7 214.7,491.1 C212.5,480.6 212.6,472.8 212.6,463.7 C212.6,454.6 213.2,444.1 214.7,436.3 C216.1,428.6 217.8,422.6 221.0,417.3 C224.2,412.1 228.7,407.5 233.7,404.7 C238.6,401.9 245.2,400.8 250.5,400.4Z" fill="none" stroke="#a4a4d2" stroke-width="1" opacity="0.9"/>
<path d="M234.9,405.0 C238.6,399.4 250.8,399.8 257.1,400.5 C263.4,401.2 268.9,402.8 272.6,409.4 C276.3,416.0 277.5,427.8 279.3,440.4 C281.1,453.0 283.0,470.0 283.7,484.8 C284.4,499.6 284.8,516.3 283.7,529.2 C282.6,542.1 280.4,554.3 277.1,562.4 C273.8,570.5 268.2,575.8 263.8,578.0 C259.4,580.2 254.5,579.0 250.4,575.7 C246.3,572.4 242.4,566.9 239.4,558.0 C236.4,549.1 235.7,534.7 232.7,522.5 C229.7,510.3 224.9,495.5 221.6,484.8 C218.3,474.1 213.8,464.9 212.7,458.2 C211.6,451.5 212.4,446.4 215.0,444.9 C217.6,443.4 225.0,451.1 228.3,449.3 C231.6,447.5 233.8,441.2 234.9,433.8 C236.0,426.4 231.2,410.6 234.9,405.0Z" fill="url(#seedIn)" stroke="#52789a" stroke-width="1.1"/>
<path d="M236.3,412.9 C239.7,407.9 250.7,408.1 256.3,408.8 C262.0,409.5 266.9,410.8 270.3,416.8 C273.6,422.8 274.6,433.4 276.3,444.7 C278.0,456.0 279.6,471.4 280.2,484.7 C280.9,498.0 281.2,513.0 280.2,524.6 C279.3,536.3 277.3,547.2 274.3,554.5 C271.3,561.8 266.3,566.6 262.3,568.6 C258.3,570.6 253.9,569.5 250.3,566.5 C246.6,563.5 243.0,558.5 240.4,550.6 C237.7,542.6 237.0,529.6 234.3,518.6 C231.7,507.6 227.4,494.3 224.4,484.7 C221.4,475.0 217.3,466.7 216.3,460.7 C215.4,454.8 216.1,450.1 218.4,448.8 C220.8,447.4 227.4,454.4 230.4,452.7 C233.4,451.1 235.3,445.4 236.3,438.8 C237.3,432.1 233.0,417.9 236.3,412.9Z" fill="none" stroke="#9ec4d4" stroke-width="2" opacity="0.6" filter="url(#b1)"/>
<path d="M239.4,409.4 C242.3,403.9 256.0,403.9 261.5,407.2 C267.0,410.5 270.4,420.9 272.6,429.4 C274.8,437.9 275.5,450.1 274.8,458.2 C274.1,466.3 271.1,474.8 268.2,478.1 C265.2,481.4 260.1,480.7 257.1,478.1 C254.1,475.5 252.6,468.9 250.4,462.6 C248.2,456.3 245.6,449.3 243.8,440.4 C242.0,431.5 236.5,414.9 239.4,409.4Z" fill="#c6e6c4" stroke="#5e9e70" stroke-width="0.9" opacity="0.82"/>
<path d="M254.1,426.7 C255.8,423.8 262.9,422.5 265.8,424.8 C268.8,427.0 271.0,434.8 271.6,440.3 C272.3,445.9 271.7,455.0 269.7,457.9 C267.8,460.9 262.2,460.5 259.9,457.9 C257.7,455.3 257.0,447.6 256.1,442.4 C255.1,437.2 252.5,429.6 254.1,426.7Z" fill="#dcc4cc" stroke="#9a8490" stroke-width="0.8" opacity="0.75"/>
<path d="M251.9,474.1 L257.9,474.1 L257.4,515 L252.4,515Z" fill="#cde6d4" opacity="0.7" filter="url(#b1)"/>
<ellipse cx="254.9" cy="527" rx="6" ry="14" fill="#bcdcbc" stroke="#6a9a78" stroke-width="0.8" opacity="0.9"/>
<ellipse cx="253.8" cy="549" rx="7" ry="10" fill="#bcdcbc" stroke="#6a9a78" stroke-width="0.8" opacity="0.9"/>
<g stroke="#50607a" stroke-width="0.5" opacity="0.7"><line x1="279" y1="474.0" x2="288" y2="475.5"/><line x1="279" y1="477.2" x2="288" y2="478.7"/><line x1="279" y1="480.4" x2="288" y2="481.9"/><line x1="279" y1="483.6" x2="288" y2="485.1"/><line x1="279" y1="486.8" x2="288" y2="488.3"/><line x1="279" y1="490.0" x2="288" y2="491.5"/><line x1="279" y1="493.2" x2="288" y2="494.7"/><line x1="279" y1="496.4" x2="288" y2="497.9"/><line x1="279" y1="499.6" x2="288" y2="501.1"/><line x1="279" y1="502.8" x2="288" y2="504.3"/><line x1="279" y1="506.0" x2="288" y2="507.5"/><line x1="279" y1="509.2" x2="288" y2="510.7"/><line x1="279" y1="512.4" x2="288" y2="513.9"/><line x1="279" y1="515.6" x2="288" y2="517.1"/><line x1="279" y1="518.8" x2="288" y2="520.3"/><line x1="279" y1="522.0" x2="288" y2="523.5"/><line x1="279" y1="525.2" x2="288" y2="526.7"/><line x1="279" y1="528.4" x2="288" y2="529.9"/><line x1="279" y1="531.6" x2="288" y2="533.1"/><line x1="279" y1="534.8" x2="288" y2="536.3"/><line x1="279" y1="538.0" x2="288" y2="539.5"/><line x1="279" y1="541.2" x2="288" y2="542.7"/><line x1="279" y1="544.4" x2="288" y2="545.9"/><line x1="279" y1="547.6" x2="288" y2="549.1"/><line x1="279" y1="550.8" x2="288" y2="552.3"/><line x1="279" y1="554.0" x2="288" y2="555.5"/><line x1="279" y1="557.2" x2="288" y2="558.7"/></g>
<path d="M372.1,395.0 C378.8,394.6 384.6,396.3 389.8,398.3 C395.0,400.3 399.8,402.0 403.1,407.2 C406.4,412.4 408.3,422.0 409.8,429.4 C411.3,436.8 412.4,442.3 412.0,451.5 C411.6,460.7 408.7,473.7 407.6,484.8 C406.5,495.9 406.1,507.0 405.4,518.1 C404.6,529.2 405.0,541.7 403.1,551.3 C401.2,560.9 398.7,570.0 394.3,575.7 C389.9,581.4 383.1,584.6 376.5,585.7 C369.9,586.8 361.0,585.2 354.4,582.4 C347.8,579.6 341.4,575.4 336.6,569.1 C331.8,562.8 328.1,554.0 325.5,544.7 C322.9,535.5 321.5,525.4 321.1,513.6 C320.7,501.8 322.2,485.9 323.3,473.7 C324.4,461.5 325.5,450.0 327.7,440.4 C329.9,430.8 332.9,422.6 336.6,416.0 C340.3,409.4 344.0,404.0 349.9,400.5 C355.8,397.0 365.5,395.4 372.1,395.0Z" fill="url(#seedOut)" stroke="#7676b4" stroke-width="1.7"/>
<path d="M372.0,399.5 C378.3,399.2 383.9,400.7 388.8,402.7 C393.7,404.6 398.2,406.2 401.4,411.1 C404.6,416.0 406.4,425.2 407.8,432.2 C409.2,439.2 410.2,444.4 409.9,453.2 C409.5,462.0 406.7,474.3 405.7,484.8 C404.6,495.4 404.3,505.9 403.6,516.5 C402.9,527.0 403.2,538.9 401.4,548.0 C399.7,557.1 397.3,565.7 393.1,571.2 C388.8,576.6 382.5,579.6 376.1,580.7 C369.8,581.7 361.5,580.2 355.1,577.6 C348.8,574.9 342.8,570.9 338.2,564.9 C333.7,558.9 330.1,550.5 327.7,541.7 C325.2,532.9 323.9,523.4 323.5,512.2 C323.2,500.9 324.6,485.9 325.6,474.3 C326.6,462.7 327.7,451.8 329.8,442.7 C331.9,433.5 334.7,425.8 338.2,419.5 C341.8,413.2 345.3,408.1 350.9,404.7 C356.5,401.4 365.6,399.9 372.0,399.5Z" fill="none" stroke="#a4a4d2" stroke-width="1" opacity="0.9"/>
<path d="M354.4,402.7 C359.6,400.1 369.5,399.4 376.5,400.5 C383.5,401.6 391.7,403.8 396.5,409.4 C401.3,414.9 404.3,423.8 405.4,433.8 C406.5,443.8 404.6,457.1 403.1,469.3 C401.6,481.5 398.0,495.2 396.5,507.0 C395.0,518.8 395.8,529.9 394.3,540.2 C392.8,550.6 391.3,562.4 387.6,569.1 C383.9,575.8 378.0,578.7 372.1,580.2 C366.2,581.7 357.3,581.0 352.1,578.0 C346.9,575.0 343.9,570.5 341.0,562.4 C338.1,554.3 336.2,540.3 334.4,529.2 C332.6,518.1 330.4,507.0 330.0,495.9 C329.6,484.8 330.7,472.6 332.2,462.6 C333.7,452.6 336.6,443.8 338.8,436.0 C341.0,428.2 342.9,421.6 345.5,416.0 C348.1,410.4 349.2,405.3 354.4,402.7Z" fill="url(#seedIn)" stroke="#52789a" stroke-width="1.1"/>
<path d="M355.6,411.1 C360.2,408.8 369.2,408.1 375.5,409.2 C381.8,410.2 389.1,412.2 393.5,417.2 C397.8,422.2 400.5,430.1 401.5,439.1 C402.5,448.1 400.8,460.1 399.4,471.1 C398.1,482.1 394.8,494.4 393.5,505.0 C392.2,515.6 392.8,525.6 391.5,534.9 C390.2,544.2 388.8,554.9 385.5,560.9 C382.1,566.9 376.8,569.5 371.5,570.9 C366.2,572.2 358.2,571.6 353.5,568.9 C348.9,566.2 346.2,562.2 343.5,554.9 C340.9,547.5 339.2,535.0 337.6,525.0 C335.9,515.0 334.0,505.0 333.6,495.0 C333.3,485.0 334.3,474.0 335.6,465.0 C336.9,456.1 339.6,448.1 341.5,441.1 C343.5,434.1 345.2,428.1 347.6,423.1 C349.9,418.1 350.9,413.5 355.6,411.1Z" fill="none" stroke="#9ec4d4" stroke-width="2" opacity="0.6" filter="url(#b1)"/>
<path d="M361.0,416.0 C365.4,413.4 375.4,410.5 381.0,411.6 C386.6,412.7 391.7,417.5 394.3,422.7 C396.9,427.9 397.2,435.7 396.5,442.7 C395.8,449.7 393.1,459.3 389.8,464.8 C386.5,470.3 380.9,473.3 376.5,475.9 C372.1,478.5 367.3,480.0 363.2,480.4 C359.1,480.8 354.7,480.7 352.1,478.1 C349.5,475.5 348.1,471.1 347.7,464.8 C347.3,458.5 348.8,446.7 349.9,440.4 C351.0,434.1 352.5,431.2 354.4,427.1 C356.2,423.0 356.6,418.6 361.0,416.0Z" fill="#c6e6c4" stroke="#5e9e70" stroke-width="0.9" opacity="0.82"/>
<path d="M362.4,427.1 C365.3,424.2 371.8,421.9 376.0,423.2 C380.3,424.5 386.1,430.4 387.7,434.9 C389.4,439.5 387.8,445.9 385.8,450.5 C383.9,455.0 379.6,459.9 376.0,462.2 C372.5,464.5 367.6,465.1 364.3,464.1 C361.1,463.2 357.6,460.3 356.6,456.4 C355.6,452.5 357.6,445.6 358.5,440.7 C359.5,435.8 359.5,430.0 362.4,427.1Z" fill="#dcc4cc" stroke="#9a8490" stroke-width="0.8" opacity="0.75"/>
<path d="M360.2,476.4 L366.2,476.4 L365.7,514.2 L360.7,514.2Z" fill="#cde6d4" opacity="0.7" filter="url(#b1)"/>
<circle cx="356.6" cy="467" r="9" fill="#b8c6c0" stroke="#8a9a94" stroke-width="0.8" opacity="0.9"/>
<ellipse cx="363.2" cy="529.2" rx="7" ry="17" fill="#bcdcbc" stroke="#6a9a78" stroke-width="0.8" opacity="0.9"/>
<ellipse cx="361" cy="551.3" rx="8" ry="10" fill="#bcdcbc" stroke="#6a9a78" stroke-width="0.8" opacity="0.9"/>
<ellipse cx="362" cy="488" rx="3" ry="8" fill="#eef6f4" opacity="0.9"/>
<g stroke="#50607a" stroke-width="0.5" opacity="0.7"><line x1="330" y1="520.0" x2="345" y2="521.5"/><line x1="330" y1="523.2" x2="345" y2="524.7"/><line x1="330" y1="526.4" x2="345" y2="527.9"/><line x1="330" y1="529.6" x2="345" y2="531.1"/><line x1="330" y1="532.8" x2="345" y2="534.3"/><line x1="330" y1="536.0" x2="345" y2="537.5"/><line x1="330" y1="539.2" x2="345" y2="540.7"/></g>
<path d="M134.8,628.6 C139.6,627.8 146.7,629.0 151.4,631.0 C156.2,633.0 160.1,635.8 163.3,640.5 C166.5,645.2 168.9,650.4 170.5,659.5 C172.1,668.6 172.7,683.3 172.9,695.2 C173.1,707.1 172.5,719.1 171.7,731.0 C170.9,742.9 170.3,756.0 168.1,766.7 C165.9,777.4 162.6,788.1 158.6,795.2 C154.6,802.3 149.5,806.1 144.3,809.5 C139.1,812.9 132.0,815.9 127.6,815.5 C123.2,815.1 121.3,812.1 118.1,807.1 C114.9,802.1 111.8,793.2 108.6,785.7 C105.4,778.2 101.6,769.8 99.0,761.9 C96.4,754.0 93.9,747.2 93.1,738.1 C92.3,729.0 92.9,717.4 94.3,707.1 C95.7,696.8 98.6,685.3 101.4,676.2 C104.2,667.1 107.4,659.1 111.0,652.4 C114.6,645.6 118.9,639.7 122.9,635.7 C126.9,631.7 130.1,629.4 134.8,628.6Z" fill="url(#seedOut)" stroke="#7676b4" stroke-width="1.7"/>
<path d="M134.8,633.1 C139.3,632.4 146.0,633.5 150.5,635.4 C155.0,637.3 158.8,639.9 161.8,644.4 C164.9,648.9 167.2,653.8 168.7,662.5 C170.2,671.1 170.8,685.1 171.0,696.4 C171.1,707.7 170.6,719.1 169.8,730.4 C169.1,741.7 168.5,754.1 166.4,764.3 C164.3,774.5 161.1,784.6 157.4,791.4 C153.6,798.2 148.7,801.7 143.8,805.0 C138.9,808.2 132.1,811.0 127.9,810.7 C123.8,810.3 121.9,807.4 118.9,802.7 C115.9,798.0 112.9,789.5 109.9,782.4 C106.8,775.2 103.2,767.3 100.7,759.7 C98.3,752.2 95.9,745.8 95.1,737.1 C94.4,728.5 95.0,717.5 96.3,707.7 C97.6,697.9 100.4,687.0 103.0,678.3 C105.7,669.7 108.7,662.1 112.1,655.7 C115.6,649.3 119.7,643.6 123.5,639.9 C127.2,636.1 130.2,633.9 134.8,633.1Z" fill="none" stroke="#a4a4d2" stroke-width="1" opacity="0.9"/>
<path d="M122.9,635.7 C127.3,633.7 137.2,632.1 141.9,633.3 C146.7,634.5 149.8,637.3 151.4,642.9 C153.0,648.5 149.4,662.7 151.4,666.7 C153.4,670.7 161.7,660.0 163.3,666.7 C164.9,673.4 163.0,694.4 161.0,707.1 C159.0,719.8 153.4,731.0 151.4,742.9 C149.4,754.8 151.0,768.7 149.0,778.6 C147.0,788.5 143.8,797.6 139.5,802.4 C135.2,807.1 127.7,809.1 122.9,807.1 C118.2,805.1 114.6,798.0 111.0,790.5 C107.4,783.0 103.8,771.4 101.4,761.9 C99.0,752.4 96.7,744.4 96.7,733.3 C96.7,722.2 99.4,706.7 101.4,695.2 C103.4,683.7 106.2,672.6 108.6,664.3 C111.0,656.0 113.3,650.0 115.7,645.2 C118.1,640.4 118.5,637.7 122.9,635.7Z" fill="url(#seedIn)" stroke="#52789a" stroke-width="1.1"/>
<path d="M123.7,643.2 C127.6,641.4 136.5,640.0 140.8,641.1 C145.0,642.1 147.9,644.7 149.3,649.7 C150.7,654.7 147.5,667.5 149.3,671.1 C151.1,674.7 158.6,665.1 160.0,671.1 C161.5,677.2 159.7,696.0 158.0,707.5 C156.2,718.9 151.1,729.0 149.3,739.7 C147.5,750.4 148.9,762.9 147.2,771.8 C145.4,780.8 142.5,789.0 138.6,793.2 C134.7,797.5 127.9,799.3 123.7,797.5 C119.4,795.7 116.2,789.3 113.0,782.5 C109.7,775.8 106.5,765.4 104.3,756.8 C102.2,748.2 100.1,741.1 100.1,731.1 C100.1,721.1 102.5,707.1 104.3,696.8 C106.1,686.4 108.7,676.5 110.8,669.0 C112.9,661.5 115.0,656.1 117.2,651.8 C119.3,647.5 119.7,645.0 123.7,643.2Z" fill="none" stroke="#9ec4d4" stroke-width="2" opacity="0.6" filter="url(#b1)"/>
<path d="M125.2,642.9 C129.2,640.1 137.5,638.5 141.9,640.5 C146.3,642.5 150.2,647.7 151.4,654.8 C152.6,661.9 151.0,675.8 149.0,683.3 C147.0,690.8 143.5,696.0 139.5,700.0 C135.5,704.0 129.2,707.1 125.2,707.1 C121.2,707.1 117.7,704.8 115.7,700.0 C113.7,695.2 112.9,685.8 113.3,678.6 C113.7,671.5 116.1,663.1 118.1,657.1 C120.1,651.1 121.2,645.7 125.2,642.9Z" fill="#c6e6c4" stroke="#5e9e70" stroke-width="0.9" opacity="0.82"/>
<path d="M123.2,650.1 C125.7,646.9 128.1,648.7 129.5,652.2 C130.9,655.7 131.9,665.1 131.6,671.0 C131.2,677.0 129.8,685.0 127.4,687.8 C124.9,690.6 119.0,690.6 116.9,687.8 C114.8,685.0 113.7,677.3 114.8,671.0 C115.8,664.7 120.8,653.2 123.2,650.1Z" fill="#dcc4cc" stroke="#9a8490" stroke-width="0.8" opacity="0.75"/>
<path d="M125.80000000000001,703.1 L131.8,703.1 L131.3,741.8 L126.30000000000001,741.8Z" fill="#cde6d4" opacity="0.7" filter="url(#b1)"/>
<ellipse cx="128.8" cy="754.8" rx="6" ry="15" fill="#bcdcbc" stroke="#6a9a78" stroke-width="0.8" opacity="0.9"/>
<ellipse cx="128.8" cy="781" rx="8" ry="10" fill="#bcdcbc" stroke="#6a9a78" stroke-width="0.8" opacity="0.9"/>
<path d="M242.6,628.6 C249.7,627.2 260.0,628.2 266.4,629.8 C272.8,631.4 276.7,633.1 280.7,638.1 C284.7,643.1 287.4,652.0 290.2,659.5 C293.0,667.0 295.8,675.4 297.4,683.3 C299.0,691.2 299.8,697.2 299.8,707.1 C299.8,717.0 298.2,732.2 297.4,742.9 C296.6,753.6 297.0,762.3 295.0,771.4 C293.0,780.5 290.3,791.2 285.5,797.6 C280.7,804.0 272.8,807.3 266.4,809.5 C260.0,811.7 253.3,811.9 247.4,810.7 C241.5,809.5 235.5,807.0 230.7,802.4 C225.9,797.8 222.0,791.2 218.8,783.3 C215.6,775.4 213.7,765.5 211.7,754.8 C209.7,744.1 207.7,730.9 206.9,719.0 C206.1,707.1 206.1,694.0 206.9,683.3 C207.7,672.6 208.9,662.3 211.7,654.8 C214.5,647.3 218.4,642.5 223.6,638.1 C228.8,633.7 235.5,630.0 242.6,628.6Z" fill="url(#seedOut)" stroke="#7676b4" stroke-width="1.7"/>
<path d="M243.2,633.0 C250.0,631.7 259.8,632.7 265.8,634.2 C271.8,635.7 275.6,637.4 279.4,642.1 C283.2,646.8 285.8,655.2 288.4,662.4 C291.1,669.6 293.7,677.5 295.2,685.0 C296.8,692.5 297.5,698.2 297.5,707.6 C297.5,717.1 296.0,731.4 295.2,741.6 C294.5,751.8 294.9,760.0 293.0,768.7 C291.1,777.4 288.5,787.6 283.9,793.6 C279.4,799.6 271.8,802.8 265.8,804.9 C259.8,807.0 253.4,807.2 247.7,806.0 C242.1,804.9 236.4,802.5 231.9,798.2 C227.4,793.8 223.6,787.5 220.6,780.0 C217.6,772.5 215.7,763.1 213.8,752.9 C212.0,742.8 210.0,730.2 209.3,718.9 C208.5,707.6 208.5,695.2 209.3,685.0 C210.0,674.8 211.2,665.1 213.8,657.9 C216.5,650.8 220.2,646.2 225.1,642.1 C230.0,637.9 236.4,634.4 243.2,633.0Z" fill="none" stroke="#a4a4d2" stroke-width="1" opacity="0.9"/>
<path d="M223.6,638.1 C228.4,634.9 235.5,633.7 242.6,633.3 C249.7,632.9 260.5,633.2 266.4,635.7 C272.3,638.2 275.6,643.6 278.0,648.0 C280.4,652.4 279.2,656.3 281.0,662.0 C282.8,667.7 287.3,675.3 289.0,682.0 C290.7,688.7 292.0,695.0 291.0,702.0 C290.0,709.0 285.9,716.4 283.0,724.0 C280.1,731.6 274.4,739.7 273.6,747.6 C272.8,755.5 278.3,764.2 278.3,771.4 C278.3,778.5 277.2,785.3 273.6,790.5 C270.0,795.7 262.8,801.2 256.9,802.4 C250.9,803.6 242.3,802.0 237.9,797.6 C233.5,793.2 233.1,784.5 230.7,776.2 C228.3,767.9 226.4,757.9 223.6,747.6 C220.8,737.3 216.0,725.8 214.0,714.3 C212.0,702.8 211.7,688.9 211.7,678.6 C211.7,668.3 212.0,659.1 214.0,652.4 C216.0,645.6 218.8,641.3 223.6,638.1Z" fill="url(#seedIn)" stroke="#52789a" stroke-width="1.1"/>
<path d="M226.6,645.4 C230.9,642.6 237.3,641.5 243.7,641.1 C250.1,640.7 259.8,641.1 265.1,643.3 C270.5,645.5 273.4,650.4 275.6,654.3 C277.8,658.3 276.6,661.8 278.3,666.9 C279.9,672.0 284.0,678.9 285.5,684.9 C287.0,690.9 288.2,696.6 287.3,702.9 C286.4,709.2 282.7,715.9 280.1,722.7 C277.5,729.6 272.3,736.9 271.6,744.0 C270.9,751.1 275.9,759.0 275.9,765.4 C275.9,771.8 274.8,777.9 271.6,782.6 C268.4,787.2 261.9,792.2 256.6,793.3 C251.2,794.4 243.4,792.9 239.5,789.0 C235.6,785.0 235.2,777.2 233.0,769.7 C230.9,762.2 229.1,753.3 226.6,744.0 C224.1,734.7 219.8,724.4 218.0,714.0 C216.2,703.7 215.9,691.2 215.9,681.9 C215.9,672.6 216.2,664.4 218.0,658.3 C219.8,652.2 222.3,648.3 226.6,645.4Z" fill="none" stroke="#9ec4d4" stroke-width="2" opacity="0.6" filter="url(#b1)"/>
<path d="M228.3,652.4 C231.9,648.0 241.8,645.6 247.4,645.2 C253.0,644.8 258.9,645.6 261.7,650.0 C264.5,654.4 263.2,664.6 264.0,671.4 C264.8,678.1 267.6,685.7 266.4,690.5 C265.2,695.3 260.9,698.4 256.9,700.0 C252.9,701.6 247.0,702.0 242.6,700.0 C238.2,698.0 233.5,692.9 230.7,688.1 C227.9,683.3 226.4,677.4 226.0,671.4 C225.6,665.4 224.7,656.8 228.3,652.4Z" fill="#c6e6c4" stroke="#5e9e70" stroke-width="0.9" opacity="0.82"/>
<path d="M234.7,658.1 C237.5,655.3 245.6,651.8 249.4,651.8 C253.3,651.8 256.7,654.6 257.8,658.1 C258.8,661.6 257.4,668.9 255.7,672.8 C253.9,676.6 250.5,680.1 247.3,681.1 C244.2,682.2 239.3,681.2 236.8,679.1 C234.4,677.0 233.0,672.1 232.6,668.6 C232.3,665.1 231.9,660.9 234.7,658.1Z" fill="#dcc4cc" stroke="#9a8490" stroke-width="0.8" opacity="0.75"/>
<path d="M253.89999999999998,696 L259.9,696 L259.4,740.8 L254.39999999999998,740.8Z" fill="#cde6d4" opacity="0.7" filter="url(#b1)"/>
<circle cx="261.7" cy="690.5" r="8" fill="#b8c6c0" stroke="#8a9a94" stroke-width="0.8" opacity="0.9"/>
<ellipse cx="256.9" cy="754.8" rx="6" ry="16" fill="#bcdcbc" stroke="#6a9a78" stroke-width="0.8" opacity="0.9"/>
<ellipse cx="258.1" cy="778.6" rx="8" ry="10" fill="#bcdcbc" stroke="#6a9a78" stroke-width="0.8" opacity="0.9"/>
<ellipse cx="252" cy="711" rx="4" ry="4" fill="#eef6f4" opacity="0.9"/>
<g stroke="#50607a" stroke-width="0.5" opacity="0.7"><line x1="240" y1="718.0" x2="275" y2="719.5"/><line x1="240" y1="721.2" x2="275" y2="722.7"/><line x1="240" y1="724.4" x2="275" y2="725.9"/><line x1="240" y1="727.6" x2="275" y2="729.1"/><line x1="240" y1="730.8" x2="275" y2="732.3"/></g>
<path d="M357.6,628.6 C363.2,628.8 373.1,628.6 379.0,631.0 C384.9,633.4 389.3,637.4 393.3,642.9 C397.3,648.4 400.1,656.4 402.9,664.3 C405.7,672.2 408.0,679.4 410.0,690.5 C412.0,701.6 414.0,719.1 414.8,731.0 C415.6,742.9 416.0,752.0 414.8,761.9 C413.6,771.8 411.2,783.0 407.6,790.5 C404.0,798.0 398.9,803.5 393.3,807.1 C387.8,810.7 380.7,811.9 374.3,811.9 C367.9,811.9 360.8,810.7 355.2,807.1 C349.6,803.5 345.0,798.0 341.0,790.5 C337.0,783.0 333.8,773.0 331.4,761.9 C329.0,750.8 328.1,735.7 326.7,723.8 C325.3,711.9 323.5,701.2 323.1,690.5 C322.7,679.8 322.5,668.2 324.3,659.5 C326.1,650.8 330.2,643.1 333.8,638.1 C337.4,633.1 341.7,631.4 345.7,629.8 C349.7,628.2 352.1,628.4 357.6,628.6Z" fill="url(#seedOut)" stroke="#7676b4" stroke-width="1.7"/>
<path d="M358.1,632.9 C363.4,633.1 372.8,632.9 378.5,635.2 C384.1,637.4 388.3,641.2 392.0,646.5 C395.8,651.8 398.5,659.3 401.2,666.8 C403.8,674.3 406.0,681.1 407.9,691.7 C409.8,702.3 411.7,718.9 412.5,730.2 C413.2,741.5 413.6,750.1 412.5,759.5 C411.3,769.0 409.0,779.5 405.6,786.7 C402.2,793.9 397.3,799.1 392.0,802.5 C386.8,805.9 380.0,807.0 374.0,807.0 C368.0,807.0 361.1,805.9 355.9,802.5 C350.6,799.1 346.1,793.9 342.4,786.7 C338.6,779.5 335.5,770.1 333.2,759.5 C331.0,749.0 330.1,734.6 328.8,723.3 C327.5,712.0 325.7,701.9 325.4,691.7 C325.0,681.5 324.8,670.5 326.5,662.2 C328.2,654.0 332.1,646.6 335.5,641.9 C338.9,637.2 343.1,635.5 346.8,634.0 C350.6,632.5 352.9,632.7 358.1,632.9Z" fill="none" stroke="#a4a4d2" stroke-width="1" opacity="0.9"/>
<path d="M336.2,640.5 C340.6,637.7 350.5,633.7 357.6,633.3 C364.7,632.9 373.4,634.5 379.0,638.1 C384.6,641.7 387.8,648.0 391.0,654.8 C394.2,661.5 396.5,670.7 398.1,678.6 C399.7,686.5 402.5,694.9 400.5,702.4 C398.5,709.9 388.2,715.1 386.2,723.8 C384.2,732.5 387.4,745.3 388.6,754.8 C389.8,764.3 394.1,773.9 393.3,781.0 C392.5,788.1 388.6,794.0 383.8,797.6 C379.1,801.2 370.4,803.6 364.8,802.4 C359.2,801.2 354.1,796.5 350.5,790.5 C346.9,784.5 345.3,776.6 343.3,766.7 C341.3,756.8 340.2,742.1 338.6,731.0 C337.0,719.9 335.4,709.9 333.8,700.0 C332.2,690.1 329.4,679.7 329.0,671.4 C328.6,663.1 330.2,655.1 331.4,650.0 C332.6,644.9 331.8,643.3 336.2,640.5Z" fill="url(#seedIn)" stroke="#52789a" stroke-width="1.1"/>
<path d="M339.1,647.7 C343.0,645.2 351.9,641.6 358.3,641.2 C364.8,640.9 372.6,642.3 377.6,645.6 C382.6,648.8 385.5,654.5 388.4,660.6 C391.3,666.7 393.4,674.9 394.8,682.0 C396.2,689.2 398.7,696.7 397.0,703.4 C395.2,710.2 385.9,714.8 384.1,722.7 C382.3,730.6 385.2,742.0 386.2,750.6 C387.3,759.2 391.2,767.8 390.5,774.2 C389.8,780.6 386.2,785.9 381.9,789.1 C377.6,792.3 369.8,794.5 364.8,793.4 C359.8,792.4 355.2,788.1 352.0,782.7 C348.7,777.4 347.3,770.2 345.5,761.3 C343.7,752.4 342.7,739.2 341.2,729.2 C339.8,719.2 338.4,710.2 336.9,701.3 C335.5,692.3 333.0,683.0 332.6,675.5 C332.2,668.0 333.7,660.9 334.8,656.3 C335.8,651.6 335.2,650.2 339.1,647.7Z" fill="none" stroke="#9ec4d4" stroke-width="2" opacity="0.6" filter="url(#b1)"/>
<path d="M343.3,647.6 C346.9,642.5 356.8,640.5 362.4,640.5 C368.0,640.5 373.5,642.5 376.7,647.6 C379.9,652.8 379.8,663.5 381.4,671.4 C383.0,679.3 387.0,689.6 386.2,695.2 C385.4,700.8 381.5,704.0 376.7,704.8 C371.9,705.6 362.8,702.4 357.6,700.0 C352.4,697.6 348.5,695.3 345.7,690.5 C342.9,685.7 341.4,678.5 341.0,671.4 C340.6,664.2 339.7,652.8 343.3,647.6Z" fill="#c6e6c4" stroke="#5e9e70" stroke-width="0.9" opacity="0.82"/>
<path d="M347.5,653.7 C350.7,650.6 359.8,647.0 364.3,647.4 C368.9,647.7 373.4,651.3 374.8,655.8 C376.2,660.4 375.2,670.5 372.7,674.7 C370.3,678.8 364.0,680.5 360.1,680.9 C356.3,681.3 352.1,679.2 349.6,676.8 C347.2,674.3 345.8,670.1 345.4,666.3 C345.1,662.5 344.4,656.9 347.5,653.7Z" fill="#dcc4cc" stroke="#9a8490" stroke-width="0.8" opacity="0.75"/>
<path d="M368.9,700.8 L374.9,700.8 L374.4,741.8 L369.4,741.8Z" fill="#cde6d4" opacity="0.7" filter="url(#b1)"/>
<circle cx="377.9" cy="692.9" r="9" fill="#b8c6c0" stroke="#8a9a94" stroke-width="0.8" opacity="0.9"/>
<ellipse cx="371.9" cy="754.8" rx="6" ry="15" fill="#bcdcbc" stroke="#6a9a78" stroke-width="0.8" opacity="0.9"/>
<ellipse cx="374.3" cy="778.6" rx="8" ry="10" fill="#bcdcbc" stroke="#6a9a78" stroke-width="0.8" opacity="0.9"/>
<g stroke="#50607a" stroke-width="0.5" opacity="0.7"><line x1="381" y1="707.0" x2="400" y2="708.5"/><line x1="381" y1="710.2" x2="400" y2="711.7"/><line x1="381" y1="713.4" x2="400" y2="714.9"/><line x1="381" y1="716.6" x2="400" y2="718.1"/><line x1="381" y1="719.8" x2="400" y2="721.3"/><line x1="381" y1="723.0" x2="400" y2="724.5"/><line x1="381" y1="726.2" x2="400" y2="727.7"/><line x1="381" y1="729.4" x2="400" y2="730.9"/><line x1="381" y1="732.6" x2="400" y2="734.1"/><line x1="381" y1="735.8" x2="400" y2="737.3"/><line x1="381" y1="739.0" x2="400" y2="740.5"/><line x1="381" y1="742.2" x2="400" y2="743.7"/><line x1="381" y1="745.4" x2="400" y2="746.9"/><line x1="381" y1="748.6" x2="400" y2="750.1"/><line x1="381" y1="751.8" x2="400" y2="753.3"/><line x1="381" y1="755.0" x2="400" y2="756.5"/><line x1="381" y1="758.2" x2="400" y2="759.7"/><line x1="381" y1="761.4" x2="400" y2="762.9"/></g>
<g stroke="#3e7a7a" stroke-width="1" fill="none" opacity="0.55"><path d="M110,440 C116,470 118,500 124,520 C128,532 126,540 124,548"/><path d="M342,440 C346,470 346,500 350,520 C352,532 350,540 348,548"/></g>
<g stroke="#506a80" stroke-width="0.6" opacity="0.3"><line x1="112" y1="515" x2="158" y2="515"/><line x1="112" y1="522" x2="158" y2="522"/><line x1="112" y1="530" x2="158" y2="530"/><line x1="112" y1="538" x2="158" y2="538"/><line x1="112" y1="556" x2="158" y2="556"/><line x1="330" y1="522" x2="378" y2="522"/><line x1="330" y1="528" x2="378" y2="528"/><line x1="330" y1="534" x2="378" y2="534"/><line x1="330" y1="540" x2="378" y2="540"/><line x1="330" y1="546" x2="378" y2="546"/></g>
<g filter="url(#cloud)">
<path d="M542.5,423.0 C544.2,421.0 547.0,415.4 550.5,413.0 C554.0,410.6 559.2,409.4 563.5,408.5 C567.8,407.6 572.0,407.5 576.5,407.5 C581.0,407.5 586.2,407.8 590.5,408.5 C594.8,409.2 599.2,409.9 602.5,412.0 C605.8,414.1 608.6,416.7 610.5,421.0 C612.4,425.3 613.1,430.3 614.0,438.0 C614.9,445.7 616.0,457.2 616.0,467.0 C616.0,476.8 615.0,487.2 614.0,497.0 C613.0,506.8 611.7,518.8 610.0,526.0 C608.3,533.2 607.3,536.0 604.0,540.0 C600.7,544.0 595.2,547.8 590.0,550.0 C584.8,552.2 577.8,554.0 573.0,553.0 C568.2,552.0 564.3,547.3 561.0,544.0 C557.7,540.7 556.2,537.0 553.0,533.0 C549.8,529.0 544.5,525.5 542.0,520.0 C539.5,514.5 538.6,509.5 538.0,500.0 C537.4,490.5 538.2,475.5 538.5,463.0 C538.8,450.5 539.3,431.7 540.0,425.0 C540.7,418.3 540.8,425.0 542.5,423.0Z" fill="#8ab0f0" opacity="0.7" filter="url(#b3)"/>
<path d="M542.5,423.0 C544.2,421.0 547.0,415.4 550.5,413.0 C554.0,410.6 559.2,409.4 563.5,408.5 C567.8,407.6 572.0,407.5 576.5,407.5 C581.0,407.5 586.2,407.8 590.5,408.5 C594.8,409.2 599.2,409.9 602.5,412.0 C605.8,414.1 608.6,416.7 610.5,421.0 C612.4,425.3 613.1,430.3 614.0,438.0 C614.9,445.7 616.0,457.2 616.0,467.0 C616.0,476.8 615.0,487.2 614.0,497.0 C613.0,506.8 611.7,518.8 610.0,526.0 C608.3,533.2 607.3,536.0 604.0,540.0 C600.7,544.0 595.2,547.8 590.0,550.0 C584.8,552.2 577.8,554.0 573.0,553.0 C568.2,552.0 564.3,547.3 561.0,544.0 C557.7,540.7 556.2,537.0 553.0,533.0 C549.8,529.0 544.5,525.5 542.0,520.0 C539.5,514.5 538.6,509.5 538.0,500.0 C537.4,490.5 538.2,475.5 538.5,463.0 C538.8,450.5 539.3,431.7 540.0,425.0 C540.7,418.3 540.8,425.0 542.5,423.0Z" fill="#2f72dc" opacity="0.95" filter="url(#b2)"/>
<path d="M549.5,423.0 C551.5,419.2 554.3,416.8 558.5,415.0 C562.7,413.2 569.2,412.3 574.5,412.0 C579.8,411.7 585.8,411.7 590.5,413.0 C595.2,414.3 599.8,415.8 602.5,420.0 C605.2,424.2 605.5,430.0 606.5,438.0 C607.5,446.0 608.5,458.0 608.5,468.0 C608.5,478.0 607.5,488.5 606.5,498.0 C605.5,507.5 604.5,518.2 602.5,525.0 C600.5,531.8 598.5,535.7 594.5,539.0 C590.5,542.3 583.5,545.3 578.5,545.0 C573.5,544.7 568.5,540.7 564.5,537.0 C560.5,533.3 557.5,528.7 554.5,523.0 C551.5,517.3 548.0,512.2 546.5,503.0 C545.0,493.8 545.5,478.8 545.5,468.0 C545.5,457.2 545.8,445.5 546.5,438.0 C547.2,430.5 547.5,426.8 549.5,423.0Z" fill="#22a2b4" filter="url(#b2)"/>
<path d="M558.5,421.0 C561.8,416.7 569.2,417.3 574.5,417.0 C579.8,416.7 586.5,416.3 590.5,419.0 C594.5,421.7 596.8,425.7 598.5,433.0 C600.2,440.3 600.5,452.7 600.5,463.0 C600.5,473.3 599.8,485.3 598.5,495.0 C597.2,504.7 595.2,514.3 592.5,521.0 C589.8,527.7 586.2,532.3 582.5,535.0 C578.8,537.7 574.2,538.7 570.5,537.0 C566.8,535.3 563.2,530.7 560.5,525.0 C557.8,519.3 555.7,511.7 554.5,503.0 C553.3,494.3 553.5,483.0 553.5,473.0 C553.5,463.0 553.7,451.7 554.5,443.0 C555.3,434.3 555.2,425.3 558.5,421.0Z" fill="#40bc4c" filter="url(#b3)"/>
<ellipse cx="576.5" cy="453" rx="14" ry="32" fill="#7ab840" opacity="0.8" filter="url(#b5)"/>
<ellipse cx="578.5" cy="433" rx="8" ry="14" fill="#a8a040" opacity="0.75" filter="url(#b3)"/>
<ellipse cx="570.5" cy="523" rx="12" ry="14" fill="#60b040" opacity="0.7" filter="url(#b3)"/>
<ellipse cx="556.5" cy="473" rx="6" ry="30" fill="#2a8ad0" opacity="0.6" filter="url(#b3)"/>
</g>
<polygon points="496.5,397 646.3,394.6 662.5,411 512,414" fill="#060606"/>
<ellipse cx="580" cy="404" rx="22" ry="2.2" fill="#2050d0" filter="url(#b1)"/>
<ellipse cx="576" cy="404" rx="10" ry="1.2" fill="#50a0ff" filter="url(#b06)"/>
<polygon points="778.5,474 928.5,472 944.5,488.5 795,491" fill="#060606"/>
<g filter="url(#cloud)">
<path d="M824.0,420.0 C825.8,418.0 828.5,412.4 832.0,410.0 C835.5,407.6 840.7,406.4 845.0,405.5 C849.3,404.6 853.5,404.5 858.0,404.5 C862.5,404.5 867.7,404.8 872.0,405.5 C876.3,406.2 880.7,406.9 884.0,409.0 C887.3,411.1 890.1,413.7 892.0,418.0 C893.9,422.3 894.6,427.3 895.5,435.0 C896.4,442.7 897.5,454.2 897.5,464.0 C897.5,473.8 896.5,484.2 895.5,494.0 C894.5,503.8 893.2,515.8 891.5,523.0 C889.8,530.2 888.8,533.0 885.5,537.0 C882.2,541.0 876.7,544.8 871.5,547.0 C866.3,549.2 859.3,551.0 854.5,550.0 C849.7,549.0 845.8,544.3 842.5,541.0 C839.2,537.7 837.7,534.0 834.5,530.0 C831.3,526.0 826.0,522.5 823.5,517.0 C821.0,511.5 820.1,506.5 819.5,497.0 C818.9,487.5 819.7,472.5 820.0,460.0 C820.3,447.5 820.8,428.7 821.5,422.0 C822.2,415.3 822.2,422.0 824.0,420.0Z" fill="#8ab0f0" opacity="0.7" filter="url(#b3)"/>
<path d="M824.0,420.0 C825.8,418.0 828.5,412.4 832.0,410.0 C835.5,407.6 840.7,406.4 845.0,405.5 C849.3,404.6 853.5,404.5 858.0,404.5 C862.5,404.5 867.7,404.8 872.0,405.5 C876.3,406.2 880.7,406.9 884.0,409.0 C887.3,411.1 890.1,413.7 892.0,418.0 C893.9,422.3 894.6,427.3 895.5,435.0 C896.4,442.7 897.5,454.2 897.5,464.0 C897.5,473.8 896.5,484.2 895.5,494.0 C894.5,503.8 893.2,515.8 891.5,523.0 C889.8,530.2 888.8,533.0 885.5,537.0 C882.2,541.0 876.7,544.8 871.5,547.0 C866.3,549.2 859.3,551.0 854.5,550.0 C849.7,549.0 845.8,544.3 842.5,541.0 C839.2,537.7 837.7,534.0 834.5,530.0 C831.3,526.0 826.0,522.5 823.5,517.0 C821.0,511.5 820.1,506.5 819.5,497.0 C818.9,487.5 819.7,472.5 820.0,460.0 C820.3,447.5 820.8,428.7 821.5,422.0 C822.2,415.3 822.2,422.0 824.0,420.0Z" fill="#2f72dc" opacity="0.95" filter="url(#b2)"/>
<path d="M831.0,420.0 C833.0,416.2 835.8,413.8 840.0,412.0 C844.2,410.2 850.7,409.3 856.0,409.0 C861.3,408.7 867.3,408.7 872.0,410.0 C876.7,411.3 881.3,412.8 884.0,417.0 C886.7,421.2 887.0,427.0 888.0,435.0 C889.0,443.0 890.0,455.0 890.0,465.0 C890.0,475.0 889.0,485.5 888.0,495.0 C887.0,504.5 886.0,515.2 884.0,522.0 C882.0,528.8 880.0,532.7 876.0,536.0 C872.0,539.3 865.0,542.3 860.0,542.0 C855.0,541.7 850.0,537.7 846.0,534.0 C842.0,530.3 839.0,525.7 836.0,520.0 C833.0,514.3 829.5,509.2 828.0,500.0 C826.5,490.8 827.0,475.8 827.0,465.0 C827.0,454.2 827.3,442.5 828.0,435.0 C828.7,427.5 829.0,423.8 831.0,420.0Z" fill="#22a2b4" filter="url(#b2)"/>
<path d="M840.0,418.0 C843.3,413.7 850.7,414.3 856.0,414.0 C861.3,413.7 868.0,413.3 872.0,416.0 C876.0,418.7 878.3,422.7 880.0,430.0 C881.7,437.3 882.0,449.7 882.0,460.0 C882.0,470.3 881.3,482.3 880.0,492.0 C878.7,501.7 876.7,511.3 874.0,518.0 C871.3,524.7 867.7,529.3 864.0,532.0 C860.3,534.7 855.7,535.7 852.0,534.0 C848.3,532.3 844.7,527.7 842.0,522.0 C839.3,516.3 837.2,508.7 836.0,500.0 C834.8,491.3 835.0,480.0 835.0,470.0 C835.0,460.0 835.2,448.7 836.0,440.0 C836.8,431.3 836.7,422.3 840.0,418.0Z" fill="#40bc4c" filter="url(#b3)"/>
<ellipse cx="858" cy="450" rx="14" ry="32" fill="#7ab840" opacity="0.8" filter="url(#b5)"/>
<ellipse cx="860" cy="430" rx="8" ry="14" fill="#a8a040" opacity="0.75" filter="url(#b3)"/>
<ellipse cx="852" cy="520" rx="12" ry="14" fill="#60b040" opacity="0.7" filter="url(#b3)"/>
<ellipse cx="838" cy="470" rx="6" ry="30" fill="#2a8ad0" opacity="0.6" filter="url(#b3)"/>
</g>
<polygon points="788.5,484.3 938.5,482.3 944.5,488.5 795,491" fill="#060606"/>
<path d="M822,484.5 L896,483.2" stroke="#2a50e0" stroke-width="1.5" filter="url(#b06)"/>
<g filter="url(#cloud)">
<path d="M1096.8,408.6 C1098.5,406.6 1101.3,401.0 1104.8,398.6 C1108.3,396.2 1113.5,395.0 1117.8,394.1 C1122.1,393.2 1126.3,393.1 1130.8,393.1 C1135.3,393.1 1140.5,393.4 1144.8,394.1 C1149.1,394.9 1153.5,395.5 1156.8,397.6 C1160.1,399.7 1162.9,402.3 1164.8,406.6 C1166.7,410.9 1167.4,415.9 1168.3,423.6 C1169.2,431.3 1170.3,442.8 1170.3,452.6 C1170.3,462.4 1169.3,472.8 1168.3,482.6 C1167.3,492.4 1166.0,504.4 1164.3,511.6 C1162.6,518.8 1161.6,521.6 1158.3,525.6 C1155.0,529.6 1149.5,533.4 1144.3,535.6 C1139.1,537.8 1132.1,539.6 1127.3,538.6 C1122.5,537.6 1118.6,532.9 1115.3,529.6 C1112.0,526.3 1110.5,522.6 1107.3,518.6 C1104.1,514.6 1098.8,511.1 1096.3,505.6 C1093.8,500.1 1092.9,495.1 1092.3,485.6 C1091.7,476.1 1092.5,461.1 1092.8,448.6 C1093.1,436.1 1093.6,417.3 1094.3,410.6 C1095.0,403.9 1095.0,410.6 1096.8,408.6Z" fill="#8ab0f0" opacity="0.7" filter="url(#b3)"/>
<path d="M1096.8,408.6 C1098.5,406.6 1101.3,401.0 1104.8,398.6 C1108.3,396.2 1113.5,395.0 1117.8,394.1 C1122.1,393.2 1126.3,393.1 1130.8,393.1 C1135.3,393.1 1140.5,393.4 1144.8,394.1 C1149.1,394.9 1153.5,395.5 1156.8,397.6 C1160.1,399.7 1162.9,402.3 1164.8,406.6 C1166.7,410.9 1167.4,415.9 1168.3,423.6 C1169.2,431.3 1170.3,442.8 1170.3,452.6 C1170.3,462.4 1169.3,472.8 1168.3,482.6 C1167.3,492.4 1166.0,504.4 1164.3,511.6 C1162.6,518.8 1161.6,521.6 1158.3,525.6 C1155.0,529.6 1149.5,533.4 1144.3,535.6 C1139.1,537.8 1132.1,539.6 1127.3,538.6 C1122.5,537.6 1118.6,532.9 1115.3,529.6 C1112.0,526.3 1110.5,522.6 1107.3,518.6 C1104.1,514.6 1098.8,511.1 1096.3,505.6 C1093.8,500.1 1092.9,495.1 1092.3,485.6 C1091.7,476.1 1092.5,461.1 1092.8,448.6 C1093.1,436.1 1093.6,417.3 1094.3,410.6 C1095.0,403.9 1095.0,410.6 1096.8,408.6Z" fill="#2f72dc" opacity="0.95" filter="url(#b2)"/>
<path d="M1103.8,408.6 C1105.8,404.8 1108.6,402.4 1112.8,400.6 C1117.0,398.8 1123.5,397.9 1128.8,397.6 C1134.1,397.3 1140.1,397.3 1144.8,398.6 C1149.5,399.9 1154.1,401.4 1156.8,405.6 C1159.5,409.8 1159.8,415.6 1160.8,423.6 C1161.8,431.6 1162.8,443.6 1162.8,453.6 C1162.8,463.6 1161.8,474.1 1160.8,483.6 C1159.8,493.1 1158.8,503.8 1156.8,510.6 C1154.8,517.4 1152.8,521.3 1148.8,524.6 C1144.8,527.9 1137.8,530.9 1132.8,530.6 C1127.8,530.3 1122.8,526.3 1118.8,522.6 C1114.8,518.9 1111.8,514.3 1108.8,508.6 C1105.8,502.9 1102.3,497.8 1100.8,488.6 C1099.3,479.4 1099.8,464.4 1099.8,453.6 C1099.8,442.8 1100.1,431.1 1100.8,423.6 C1101.5,416.1 1101.8,412.4 1103.8,408.6Z" fill="#22a2b4" filter="url(#b2)"/>
<path d="M1112.8,406.6 C1116.1,402.3 1123.5,402.9 1128.8,402.6 C1134.1,402.3 1140.8,401.9 1144.8,404.6 C1148.8,407.3 1151.1,411.3 1152.8,418.6 C1154.5,425.9 1154.8,438.3 1154.8,448.6 C1154.8,458.9 1154.1,470.9 1152.8,480.6 C1151.5,490.3 1149.5,499.9 1146.8,506.6 C1144.1,513.3 1140.5,517.9 1136.8,520.6 C1133.1,523.3 1128.5,524.3 1124.8,522.6 C1121.1,520.9 1117.5,516.3 1114.8,510.6 C1112.1,504.9 1110.0,497.3 1108.8,488.6 C1107.6,479.9 1107.8,468.6 1107.8,458.6 C1107.8,448.6 1108.0,437.3 1108.8,428.6 C1109.6,419.9 1109.5,410.9 1112.8,406.6Z" fill="#40bc4c" filter="url(#b3)"/>
<ellipse cx="1130.8" cy="438.6" rx="14" ry="32" fill="#7ab840" opacity="0.8" filter="url(#b5)"/>
<ellipse cx="1132.8" cy="418.6" rx="8" ry="14" fill="#a8a040" opacity="0.75" filter="url(#b3)"/>
<ellipse cx="1124.8" cy="508.6" rx="12" ry="14" fill="#60b040" opacity="0.7" filter="url(#b3)"/>
<ellipse cx="1110.8" cy="458.6" rx="6" ry="30" fill="#2a8ad0" opacity="0.6" filter="url(#b3)"/>
</g>
<polygon points="1052.7,537 1202.3,535 1218.2,551.7 1068,554.3" fill="#060606"/>
<ellipse cx="1128" cy="545" rx="5" ry="1.2" fill="#3060d0" filter="url(#b06)"/>
<g fill="#e3000f"><rect x="672" y="481" width="6" height="6"/><rect x="687" y="481" width="6" height="6"/><rect x="702" y="481" width="6" height="6"/><rect x="716" y="481" width="6" height="6"/><rect x="731" y="481" width="6" height="6"/><rect x="746" y="481" width="6" height="6"/><rect x="971" y="481" width="6" height="6"/><rect x="986" y="481" width="6" height="6"/><rect x="1001" y="481" width="6" height="6"/><rect x="1015" y="481" width="6" height="6"/><rect x="1030" y="481" width="6" height="6"/><rect x="1045" y="481" width="6" height="6"/></g>
<g fill="#fff" stroke="#e6d4c0" stroke-width="1"><rect x="479.5" y="623.5" width="100" height="177"/><rect x="585.5" y="622.5" width="99" height="178"/><rect x="690.5" y="622.5" width="100" height="177"/><rect x="798.5" y="622.5" width="100" height="177"/><rect x="904.5" y="622.5" width="100" height="176"/><rect x="1011.5" y="621.5" width="101" height="177"/><rect x="1122.5" y="621.5" width="104" height="177"/></g>
<g stroke="#dbb07c" stroke-width="1"><line x1="479.5" y1="623.5" x2="579.5" y2="623.5"/><line x1="479.5" y1="800.5" x2="579.5" y2="800.5"/><line x1="585.5" y1="622.5" x2="684.5" y2="622.5"/><line x1="585.5" y1="800.5" x2="684.5" y2="800.5"/><line x1="690.5" y1="622.5" x2="790.5" y2="622.5"/><line x1="690.5" y1="799.5" x2="790.5" y2="799.5"/><line x1="798.5" y1="622.5" x2="898.5" y2="622.5"/><line x1="798.5" y1="799.5" x2="898.5" y2="799.5"/><line x1="904.5" y1="622.5" x2="1004.5" y2="622.5"/><line x1="904.5" y1="798.5" x2="1004.5" y2="798.5"/><line x1="1011.5" y1="621.5" x2="1112.5" y2="621.5"/><line x1="1011.5" y1="798.5" x2="1112.5" y2="798.5"/><line x1="1122.5" y1="621.5" x2="1226.5" y2="621.5"/><line x1="1122.5" y1="798.5" x2="1226.5" y2="798.5"/></g>
<path d="M523,716 L527,719 L528,724 L525,726 L523,722Z" fill="#2040c0" filter="url(#b06)"/>
<path d="M621.3,692.6 C623.2,691.3 625.6,692.8 628.4,691.8 C631.2,690.8 635.9,687.9 638.3,686.9 C640.7,685.9 640.7,684.5 642.6,685.5 C644.5,686.5 647.5,689.5 649.6,692.6 C651.7,695.7 654.1,699.9 655.3,703.9 C656.5,707.9 656.9,712.9 656.7,716.7 C656.5,720.5 655.5,723.1 653.9,726.6 C652.2,730.1 648.9,734.4 646.8,737.9 C644.7,741.4 643.2,746.7 641.1,747.9 C639.0,749.1 636.8,746.2 634.0,745.0 C631.2,743.8 626.9,740.5 624.1,740.8 C621.3,741.0 618.2,747.0 617.0,746.5 C615.8,746.0 617.5,741.7 617.0,737.9 C616.5,734.1 614.7,728.5 614.2,723.8 C613.7,719.1 613.7,713.6 614.2,709.6 C614.7,705.6 615.8,702.4 617.0,699.6 C618.2,696.8 619.4,693.9 621.3,692.6Z" fill="#1438c8" filter="url(#b06)"/>
<path d="M623.0,697.0 C624.6,695.9 626.5,697.1 628.9,696.3 C631.2,695.6 635.0,693.2 637.0,692.3 C638.9,691.5 639.0,690.4 640.5,691.2 C642.1,691.9 644.5,694.5 646.3,697.0 C648.0,699.5 650.0,703.0 650.9,706.3 C651.9,709.6 652.3,713.7 652.1,716.8 C651.9,719.9 651.1,722.0 649.8,724.9 C648.4,727.8 645.7,731.2 644.0,734.1 C642.2,737.0 641.0,741.4 639.3,742.3 C637.5,743.3 635.8,740.9 633.5,740.0 C631.1,739.0 627.7,736.3 625.3,736.5 C623.0,736.7 620.5,741.6 619.5,741.2 C618.5,740.8 619.9,737.2 619.5,734.1 C619.1,731.0 617.6,726.4 617.2,722.6 C616.8,718.7 616.8,714.2 617.2,710.9 C617.6,707.6 618.5,705.1 619.5,702.7 C620.5,700.4 621.5,698.1 623.0,697.0Z" fill="#1e78e8" filter="url(#b1)"/>
<ellipse cx="651" cy="707" rx="3" ry="5" fill="#30c0e0" filter="url(#b1)"/>
<ellipse cx="632" cy="718" rx="16" ry="24" fill="#10b8c8" filter="url(#b15)"/>
<ellipse cx="631" cy="719" rx="13" ry="20" fill="#30cc50" filter="url(#b15)"/>
<ellipse cx="630" cy="719" rx="9" ry="15" fill="#d8e800" filter="url(#b1)"/>
<ellipse cx="629.5" cy="720" rx="6" ry="12" fill="#f07000" filter="url(#b1)"/>
<path d="M626,710 L631,708 L633,716 L633,727 L630,731 L626,728 L625,718Z" fill="#e81010" filter="url(#b06)"/>
<path d="M738,671 L743,671 L745,680 L736,680Z" fill="#2060d8" filter="url(#b06)"/>
<circle cx="740.5" cy="667" r="5" fill="#1438c8" filter="url(#b06)"/>
<path d="M733.0,679.0 C735.7,677.0 738.5,676.3 741.0,677.0 C743.5,677.7 746.0,680.3 748.0,683.0 C750.0,685.7 751.3,689.5 753.0,693.0 C754.7,696.5 756.8,700.5 758.0,704.0 C759.2,707.5 760.2,710.7 760.0,714.0 C759.8,717.3 757.8,720.3 757.0,724.0 C756.2,727.7 756.5,732.3 755.0,736.0 C753.5,739.7 751.2,743.5 748.0,746.0 C744.8,748.5 739.8,750.7 736.0,751.0 C732.2,751.3 728.2,749.8 725.0,748.0 C721.8,746.2 718.8,743.3 717.0,740.0 C715.2,736.7 714.3,732.5 714.0,728.0 C713.7,723.5 714.2,717.7 715.0,713.0 C715.8,708.3 717.3,704.0 719.0,700.0 C720.7,696.0 722.7,692.5 725.0,689.0 C727.3,685.5 730.3,681.0 733.0,679.0Z" fill="#1438c8" filter="url(#b06)"/>
<path d="M733.5,683.8 C735.8,682.1 738.3,681.5 740.5,682.1 C742.7,682.7 744.8,685.0 746.6,687.3 C748.3,689.6 749.5,692.9 750.9,696.0 C752.4,699.0 754.3,702.5 755.3,705.6 C756.3,708.6 757.2,711.4 757.0,714.3 C756.9,717.2 755.1,719.8 754.4,723.0 C753.7,726.2 754.0,730.2 752.7,733.4 C751.4,736.6 749.3,739.9 746.6,742.1 C743.8,744.3 739.5,746.2 736.1,746.5 C732.8,746.7 729.3,745.4 726.6,743.8 C723.8,742.2 721.2,739.8 719.6,736.9 C718.0,734.0 717.3,730.4 717.0,726.4 C716.7,722.5 717.1,717.5 717.9,713.4 C718.6,709.3 719.9,705.6 721.3,702.1 C722.8,698.6 724.5,695.6 726.6,692.5 C728.6,689.5 731.2,685.5 733.5,683.8Z" fill="#18b0c8" filter="url(#b1)"/>
<path d="M734.0,689.1 C736.0,687.7 738.1,687.2 740.0,687.7 C741.8,688.2 743.7,690.1 745.1,692.1 C746.6,694.1 747.6,696.9 748.8,699.5 C750.1,702.1 751.7,705.0 752.5,707.6 C753.4,710.2 754.1,712.6 754.0,715.0 C753.9,717.5 752.4,719.7 751.8,722.4 C751.2,725.2 751.4,728.6 750.3,731.3 C749.2,734.0 747.5,736.9 745.1,738.7 C742.8,740.6 739.1,742.2 736.3,742.4 C733.4,742.7 730.5,741.6 728.1,740.2 C725.8,738.8 723.6,736.7 722.2,734.3 C720.8,731.8 720.2,728.7 720.0,725.4 C719.7,722.1 720.1,717.8 720.7,714.3 C721.3,710.8 722.4,707.6 723.7,704.7 C724.9,701.7 726.4,699.1 728.1,696.5 C729.8,693.9 732.1,690.6 734.0,689.1Z" fill="#2cc860" filter="url(#b15)"/>
<ellipse cx="737" cy="722" rx="10" ry="17" fill="#a8e020" opacity="0.75" filter="url(#b2)"/>
<ellipse cx="735" cy="713" rx="3" ry="5" fill="#e82010" filter="url(#b06)"/>
<ellipse cx="736" cy="726" rx="3" ry="3.5" fill="#f09000" filter="url(#b06)"/>
<path d="M752,739 L759,734 L762,741 L756,747Z" fill="#4060d8" opacity="0.55" filter="url(#b1)"/>
<path d="M845.5,661.3 C847.2,661.3 850.2,662.1 852.6,664.2 C855.0,666.3 858.7,671.3 859.6,674.1 C860.5,676.9 859.6,680.7 858.2,681.2 C856.8,681.7 852.5,676.8 851.1,677.0 C849.7,677.2 849.2,680.5 849.7,682.6 C850.2,684.7 851.9,687.1 854.0,689.7 C856.1,692.3 860.4,696.1 862.5,698.2 C864.6,700.3 866.2,699.2 866.7,702.5 C867.2,705.8 864.8,712.9 865.3,718.1 C865.8,723.3 868.9,729.5 869.6,733.7 C870.3,738.0 870.6,741.5 869.6,743.6 C868.6,745.7 866.7,746.3 863.9,746.5 C861.1,746.7 856.9,744.8 852.6,745.0 C848.4,745.2 842.7,747.4 838.4,747.9 C834.1,748.4 829.6,749.6 827.0,747.9 C824.4,746.2 823.3,741.7 822.8,737.9 C822.3,734.1 824.5,729.7 824.2,725.2 C824.0,720.7 821.5,716.4 821.3,711.0 C821.1,705.6 821.1,697.3 822.8,692.6 C824.5,687.9 828.7,685.9 831.3,682.6 C833.9,679.3 836.5,675.8 838.4,672.7 C840.3,669.6 841.4,666.1 842.6,664.2 C843.8,662.3 843.8,661.3 845.5,661.3Z" fill="#1438c8" filter="url(#b06)"/>
<path d="M845.3,668.4 C846.7,668.4 849.4,669.1 851.4,670.9 C853.4,672.7 856.6,677.0 857.4,679.4 C858.2,681.8 857.4,685.1 856.2,685.5 C855.0,685.9 851.3,681.7 850.1,681.9 C848.9,682.1 848.5,684.9 848.9,686.7 C849.3,688.5 850.8,690.6 852.6,692.8 C854.4,695.1 858.1,698.3 859.9,700.1 C861.7,702.0 863.1,701.0 863.5,703.8 C863.9,706.7 861.9,712.8 862.3,717.2 C862.7,721.7 865.4,727.0 866.0,730.7 C866.6,734.3 866.8,737.3 866.0,739.2 C865.2,741.0 863.6,741.5 861.1,741.7 C858.7,741.9 855.1,740.2 851.4,740.4 C847.7,740.6 842.9,742.5 839.2,742.9 C835.5,743.3 831.6,744.3 829.4,742.9 C827.1,741.4 826.2,737.5 825.8,734.3 C825.4,731.0 827.2,727.2 827.0,723.4 C826.8,719.5 824.7,715.8 824.5,711.1 C824.3,706.5 824.3,699.4 825.8,695.3 C827.2,691.2 830.8,689.6 833.1,686.7 C835.3,683.9 837.6,680.8 839.2,678.2 C840.8,675.6 841.8,672.5 842.8,670.9 C843.8,669.3 843.9,668.4 845.3,668.4Z" fill="#18a8d0" filter="url(#b1)"/>
<path d="M845.1,676.6 C846.3,676.6 848.5,677.2 850.2,678.7 C851.9,680.2 854.6,683.8 855.2,685.8 C855.9,687.9 855.2,690.6 854.2,690.9 C853.2,691.3 850.1,687.8 849.1,687.9 C848.1,688.1 847.8,690.4 848.1,692.0 C848.5,693.5 849.7,695.2 851.2,697.1 C852.7,698.9 855.8,701.6 857.3,703.2 C858.8,704.7 860.0,703.9 860.3,706.3 C860.7,708.7 859.0,713.8 859.3,717.5 C859.7,721.3 861.9,725.7 862.4,728.7 C862.9,731.8 863.1,734.3 862.4,735.9 C861.7,737.4 860.4,737.8 858.3,738.0 C856.3,738.1 853.3,736.7 850.2,736.9 C847.1,737.0 843.0,738.6 840.0,739.0 C836.9,739.3 833.6,740.2 831.8,739.0 C829.9,737.8 829.1,734.5 828.7,731.8 C828.4,729.0 829.9,725.9 829.7,722.6 C829.6,719.4 827.8,716.3 827.7,712.4 C827.5,708.5 827.5,702.6 828.7,699.2 C829.9,695.7 833.0,694.3 834.9,692.0 C836.7,689.6 838.6,687.0 840.0,684.8 C841.3,682.6 842.1,680.1 843.0,678.7 C843.8,677.3 843.9,676.6 845.1,676.6Z" fill="#30c850" filter="url(#b15)"/>
<ellipse cx="845" cy="724" rx="12" ry="14" fill="#c0e020" opacity="0.85" filter="url(#b2)"/>
<ellipse cx="836" cy="702" rx="5" ry="8" fill="#88d830" opacity="0.7" filter="url(#b2)"/>
<circle cx="842.6" cy="727.3" r="3" fill="#e83010" filter="url(#b06)"/>
<circle cx="852.6" cy="724.5" r="3" fill="#ec4010" filter="url(#b06)"/>
<path d="M954.7,662.8 C955.7,662.8 957.3,663.7 957.5,665.6 C957.7,667.5 955.9,671.3 956.1,674.1 C956.4,676.9 957.4,679.8 959.0,682.6 C960.6,685.4 963.9,688.3 966.0,691.1 C968.1,693.9 970.0,695.8 971.7,699.6 C973.4,703.4 975.3,709.8 976.0,713.8 C976.7,717.8 977.2,721.2 976.0,723.8 C974.8,726.4 971.5,727.8 968.9,729.4 C966.3,731.0 963.7,732.5 960.4,733.7 C957.1,734.9 952.8,737.0 949.0,736.5 C945.2,736.0 940.5,733.7 937.7,730.9 C934.9,728.1 933.3,723.5 932.0,719.5 C930.7,715.5 929.9,711.0 929.9,706.7 C929.9,702.5 930.7,697.5 932.0,694.0 C933.3,690.5 935.3,688.6 937.7,685.5 C940.1,682.4 943.9,678.8 946.2,675.5 C948.6,672.2 950.4,667.7 951.8,665.6 C953.2,663.5 953.8,662.8 954.7,662.8Z" fill="#1438c8" filter="url(#b06)"/>
<path d="M954.4,670.2 C955.3,670.2 956.6,671.0 956.8,672.6 C957.0,674.2 955.4,677.4 955.6,679.8 C955.8,682.2 956.7,684.6 958.1,687.0 C959.5,689.4 962.3,691.8 964.0,694.2 C965.8,696.6 967.5,698.2 968.9,701.5 C970.3,704.7 971.9,710.1 972.5,713.5 C973.2,717.0 973.6,719.8 972.5,722.0 C971.5,724.2 968.7,725.4 966.5,726.8 C964.3,728.2 962.1,729.4 959.3,730.4 C956.5,731.5 952.8,733.2 949.6,732.8 C946.4,732.4 942.4,730.5 940.0,728.1 C937.6,725.7 936.3,721.8 935.1,718.4 C934.0,714.9 933.4,711.1 933.4,707.5 C933.4,703.9 934.0,699.7 935.1,696.7 C936.3,693.7 938.0,692.1 940.0,689.5 C942.0,686.9 945.2,683.8 947.2,681.0 C949.2,678.2 950.8,674.4 952.0,672.6 C953.2,670.8 953.6,670.2 954.4,670.2Z" fill="#18a8d0" filter="url(#b1)"/>
<ellipse cx="953" cy="716" rx="19" ry="19" fill="#20c070" filter="url(#b15)"/>
<path d="M939.7,719.9 C939.7,717.1 941.0,713.0 942.3,710.8 C943.6,708.6 945.8,708.6 947.5,706.9 C949.2,705.2 951.0,700.4 952.7,700.4 C954.4,700.4 956.0,705.2 957.9,706.9 C959.8,708.6 962.7,708.6 964.4,710.8 C966.1,713.0 968.5,716.9 968.3,719.9 C968.1,722.9 965.9,727.0 963.1,729.0 C960.3,731.0 954.9,731.8 951.4,731.6 C947.9,731.4 944.2,729.7 942.3,727.7 C940.3,725.8 939.7,722.7 939.7,719.9Z" fill="#d8e010" filter="url(#b1)"/>
<path d="M941.7,719.4 C941.7,716.9 942.8,713.4 943.9,711.5 C945.0,709.7 946.9,709.7 948.4,708.2 C949.9,706.7 951.4,702.6 952.9,702.6 C954.4,702.6 955.7,706.7 957.4,708.2 C959.0,709.7 961.5,709.7 963.0,711.5 C964.5,713.4 966.5,716.7 966.3,719.4 C966.1,722.0 964.3,725.5 961.8,727.2 C959.4,728.9 954.7,729.6 951.8,729.4 C948.8,729.3 945.6,727.8 943.9,726.1 C942.2,724.4 941.7,721.8 941.7,719.4Z" fill="#f07000" filter="url(#b1)"/>
<path d="M943.0,719.0 C943.0,716.8 944.0,713.7 945.0,712.0 C946.0,710.3 947.7,710.3 949.0,709.0 C950.3,707.7 951.7,704.0 953.0,704.0 C954.3,704.0 955.5,707.7 957.0,709.0 C958.5,710.3 960.7,710.3 962.0,712.0 C963.3,713.7 965.2,716.7 965.0,719.0 C964.8,721.3 963.2,724.5 961.0,726.0 C958.8,727.5 954.7,728.2 952.0,728.0 C949.3,727.8 946.5,726.5 945.0,725.0 C943.5,723.5 943.0,721.2 943.0,719.0Z" fill="#e81810" filter="url(#b06)"/>
<circle cx="967" cy="670" r="1.5" fill="#7090e0" filter="url(#b06)"/>
<path d="M1047.8,689.7 C1048.8,688.9 1051.2,691.4 1052.7,691.4 C1054.2,691.4 1056.1,688.9 1057.0,689.7 C1057.9,690.5 1057.2,694.7 1058.1,696.2 C1059.0,697.7 1061.1,698.0 1062.4,698.9 C1063.7,699.8 1064.8,700.2 1065.7,701.6 C1066.6,703.0 1066.9,707.2 1067.8,707.0 C1068.7,706.8 1070.5,699.4 1071.1,700.5 C1071.7,701.6 1072.1,711.1 1071.6,713.5 C1071.0,715.9 1069.7,714.4 1067.8,714.6 C1065.9,714.8 1062.1,714.1 1060.3,714.6 C1058.5,715.1 1057.7,716.2 1057.0,717.8 C1056.3,719.4 1056.7,723.0 1056.0,724.3 C1055.3,725.6 1053.6,726.0 1052.7,725.4 C1051.8,724.8 1051.0,722.7 1050.5,720.5 C1050.0,718.3 1050.7,714.6 1050.0,712.4 C1049.3,710.1 1046.7,709.7 1046.2,707.0 C1045.7,704.3 1046.5,699.1 1046.8,696.2 C1047.1,693.3 1046.8,690.5 1047.8,689.7Z" fill="#1a40cc" filter="url(#b06)"/>
<ellipse cx="1054" cy="708" rx="3" ry="6" fill="#3070e0" filter="url(#b1)"/>
<circle cx="1076.5" cy="710.3" r="1.5" fill="#2040c0" filter="url(#b06)"/>
<rect x="625.6" y="830.8" width="473" height="29.2" fill="url(#jet)" stroke="#000" stroke-width="1.2"/>
<text x="591.5" y="898" font-size="33">High</text><text x="1070" y="898" font-size="33">Low</text>
</svg>
</body></html>
